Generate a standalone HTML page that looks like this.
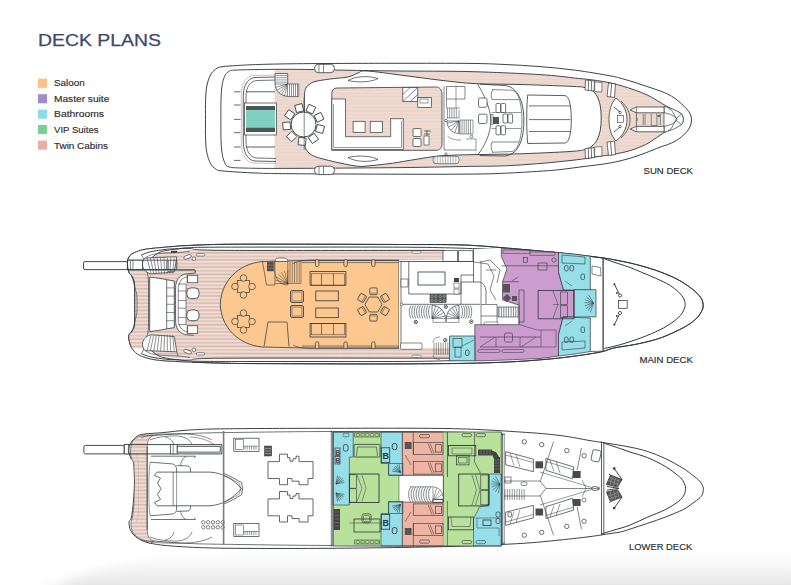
<!DOCTYPE html>
<html><head><meta charset="utf-8">
<style>
html,body{margin:0;padding:0;background:#fff;width:791px;height:585px;overflow:hidden;}
svg{position:absolute;left:0;top:0;display:block;}
text{font-family:"Liberation Sans",sans-serif;}
</style></head><body>
<svg width="791" height="585" viewBox="0 0 791 585">
<defs>
<pattern id="teak" width="8" height="3.5" patternUnits="userSpaceOnUse">
<rect width="8" height="3.5" fill="#e6d6d2"/><rect y="0" width="8" height="1.5" fill="#f8dac8"/>
</pattern>
<pattern id="teak2" width="8" height="7.2" patternUnits="userSpaceOnUse">
<rect width="8" height="7.2" fill="#f3e2da"/><rect y="0" width="8" height="1.6" fill="#d6b9b0"/><rect y="2.2" width="8" height="1.2" fill="#f7dcc8"/><rect y="3.6" width="8" height="1.6" fill="#dcc2ba"/><rect y="5.8" width="8" height="1.0" fill="#e8d4d0"/>
</pattern>
<linearGradient id="shade" gradientUnits="userSpaceOnUse" x1="0" y1="553" x2="0" y2="586">
<stop offset="0" stop-color="#ffffff"/><stop offset="0.45" stop-color="#f6f6f6"/><stop offset="1" stop-color="#e5e5e5"/>
</linearGradient>
<filter id="blurS" x="-0.1" y="-1" width="1.2" height="3"><feGaussianBlur stdDeviation="12 3"/></filter>
<radialGradient id="shadeL" cx="0" cy="1" r="1">
<stop offset="0" stop-color="#fff" stop-opacity="1"/><stop offset="1" stop-color="#fff" stop-opacity="0"/>
</radialGradient>
</defs>
<path d="M40,600 C65,576 110,560 200,552 L820,552 L820,600 Z" fill="url(#shade)" filter="url(#blurS)"/>
<text x="38" y="46.3" font-size="15.9" fill="#3e4a69" stroke="#3e4a69" stroke-width="0.25" textLength="123" lengthAdjust="spacingAndGlyphs">DECK PLANS</text>
<g font-size="8.4" fill="#2e2e2e" stroke="#2e2e2e" stroke-width="0.15">
<rect x="38" y="78.6" width="9" height="9.2" fill="#fdc08a" stroke="none"/><text x="54" y="85.8" textLength="30.6" lengthAdjust="spacingAndGlyphs">Saloon</text>
<rect x="38" y="94.2" width="9" height="9.1" fill="#9f8cc8" stroke="none"/><text x="54" y="101.5" textLength="55.3" lengthAdjust="spacingAndGlyphs">Master suite</text>
<rect x="38" y="109.6" width="9" height="9.1" fill="#8edcea" stroke="none"/><text x="54" y="117.0" textLength="50" lengthAdjust="spacingAndGlyphs">Bathrooms</text>
<rect x="38" y="125.0" width="9" height="9.1" fill="#7ccf94" stroke="none"/><text x="54" y="132.8" textLength="44.5" lengthAdjust="spacingAndGlyphs">VIP Suites</text>
<rect x="38" y="140.6" width="9" height="9.1" fill="#eab0a2" stroke="none"/><text x="54" y="148.5" textLength="53.9" lengthAdjust="spacingAndGlyphs">Twin Cabins</text>
</g>
<g font-size="8.4" fill="#2e2e2e" stroke="#2e2e2e" stroke-width="0.15">
<text x="643.6" y="174.4" textLength="49.3" lengthAdjust="spacingAndGlyphs">SUN DECK</text>
<text x="639.4" y="362.5" textLength="53.5" lengthAdjust="spacingAndGlyphs">MAIN DECK</text>
<text x="629" y="549.8" textLength="63.2" lengthAdjust="spacingAndGlyphs">LOWER DECK</text>
</g>
<path d="M205.50,119.50 C205.50,113.00 205.38,105.58 205.60,100.00 C205.82,94.42 205.98,90.17 206.80,86.00 C207.62,81.83 209.05,77.78 210.50,75.00 C211.95,72.22 213.58,70.68 215.50,69.30 C217.42,67.92 218.30,67.33 222.00,66.70 C225.70,66.07 232.13,65.85 237.70,65.50 C243.27,65.15 246.68,64.88 255.40,64.60 C264.12,64.32 274.23,64.00 290.00,63.80 C305.77,63.60 331.67,63.48 350.00,63.40 C368.33,63.32 380.00,63.30 400.00,63.30 C420.00,63.30 452.50,63.20 470.00,63.40 C487.50,63.60 493.33,63.97 505.00,64.50 C516.67,65.03 528.27,65.65 540.00,66.60 C551.73,67.55 563.73,68.67 575.40,70.20 C587.07,71.73 602.13,74.37 610.00,75.80 C617.87,77.23 618.38,77.67 622.60,78.80 C626.82,79.93 631.08,81.27 635.30,82.60 C639.52,83.93 643.78,85.42 647.90,86.80 C652.02,88.18 656.70,89.68 660.00,90.90 C663.30,92.12 665.13,92.80 667.70,94.10 C670.27,95.40 673.10,97.08 675.40,98.70 C677.70,100.32 679.62,102.08 681.50,103.80 C683.38,105.52 685.23,107.28 686.70,109.00 C688.17,110.72 689.50,112.27 690.30,114.10 C691.10,115.93 691.50,117.98 691.50,120.00 C691.50,122.02 691.10,124.23 690.30,126.20 C689.50,128.17 688.17,130.02 686.70,131.80 C685.23,133.58 683.38,135.37 681.50,136.90 C679.62,138.43 677.70,139.72 675.40,141.00 C673.10,142.28 670.27,143.57 667.70,144.60 C665.13,145.63 663.70,145.82 660.00,147.20 C656.30,148.58 650.45,151.07 645.50,152.90 C640.55,154.73 635.35,156.68 630.30,158.20 C625.25,159.72 620.25,160.95 615.20,162.00 C610.15,163.05 605.87,163.67 600.00,164.50 C594.13,165.33 586.67,166.15 580.00,167.00 C573.33,167.85 566.67,168.90 560.00,169.60 C553.33,170.30 549.10,170.60 540.00,171.20 C530.90,171.80 517.07,172.72 505.40,173.20 C493.73,173.68 487.57,173.93 470.00,174.10 C452.43,174.27 430.00,174.27 400.00,174.20 C370.00,174.13 314.10,173.90 290.00,173.70 C265.90,173.50 266.73,173.47 255.40,173.00 C244.07,172.53 228.65,171.60 222.00,170.90 C215.35,170.20 217.42,170.03 215.50,168.80 C213.58,167.57 211.95,166.22 210.50,163.50 C209.05,160.78 207.62,156.58 206.80,152.50 C205.98,148.42 205.82,144.50 205.60,139.00 C205.38,133.50 205.50,126.00 205.50,119.50 Z" fill="#fff" stroke="#30373a" stroke-width="0.95" />
<path d="M220.90,119.50 C220.90,113.00 220.82,105.58 221.00,100.00 C221.18,94.42 221.42,89.92 222.00,86.00 C222.58,82.08 223.37,78.90 224.50,76.50 C225.63,74.10 226.60,72.68 228.80,71.60 C231.00,70.52 227.50,70.38 237.70,70.00 C247.90,69.62 271.28,69.25 290.00,69.30 C308.72,69.35 331.67,70.02 350.00,70.30 C368.33,70.58 380.00,70.78 400.00,71.00 C420.00,71.22 446.67,71.00 470.00,71.60 C493.33,72.20 522.43,73.52 540.00,74.60 C557.57,75.68 566.55,77.20 575.40,78.10 C584.25,79.00 587.33,79.22 593.10,80.00 C598.87,80.78 605.08,81.78 610.00,82.80 C614.92,83.82 618.38,84.87 622.60,86.10 C626.82,87.33 631.08,88.67 635.30,90.20 C639.52,91.73 643.78,93.28 647.90,95.30 C652.02,97.32 657.13,100.62 660.00,102.30 C662.87,103.98 663.13,104.28 665.10,105.40 C667.07,106.52 669.73,107.98 671.80,109.00 C673.87,110.02 675.88,110.67 677.50,111.50 C679.12,112.33 680.53,112.67 681.50,114.00 C682.47,115.33 683.30,117.82 683.30,119.50 C683.30,121.18 682.57,122.90 681.50,124.10 C680.43,125.30 678.77,125.85 676.90,126.70 C675.03,127.55 672.35,128.27 670.30,129.20 C668.25,130.13 666.32,131.27 664.60,132.30 C662.88,133.33 661.92,134.12 660.00,135.40 C658.08,136.68 655.52,138.47 653.10,140.00 C650.68,141.53 649.30,142.83 645.50,144.60 C641.70,146.37 635.35,149.03 630.30,150.60 C625.25,152.17 620.25,153.05 615.20,154.00 C610.15,154.95 606.70,155.30 600.00,156.30 C593.30,157.30 585.00,158.80 575.00,160.00 C565.00,161.20 551.60,162.53 540.00,163.50 C528.40,164.47 517.07,165.32 505.40,165.80 C493.73,166.28 487.57,166.10 470.00,166.40 C452.43,166.70 430.00,167.27 400.00,167.60 C370.00,167.93 315.58,168.32 290.00,168.40 C264.42,168.48 256.70,168.35 246.50,168.10 C236.30,167.85 232.47,167.92 228.80,166.90 C225.13,165.88 225.63,164.32 224.50,162.00 C223.37,159.68 222.58,156.83 222.00,153.00 C221.42,149.17 221.18,144.58 221.00,139.00 C220.82,133.42 220.90,126.00 220.90,119.50 Z" fill="url(#teak)" stroke="none" stroke-width="0.9" />
<clipPath id="sinner"><path d="M220.90,119.50 C220.90,113.00 220.82,105.58 221.00,100.00 C221.18,94.42 221.42,89.92 222.00,86.00 C222.58,82.08 223.37,78.90 224.50,76.50 C225.63,74.10 226.60,72.68 228.80,71.60 C231.00,70.52 227.50,70.38 237.70,70.00 C247.90,69.62 271.28,69.25 290.00,69.30 C308.72,69.35 331.67,70.02 350.00,70.30 C368.33,70.58 380.00,70.78 400.00,71.00 C420.00,71.22 446.67,71.00 470.00,71.60 C493.33,72.20 522.43,73.52 540.00,74.60 C557.57,75.68 566.55,77.20 575.40,78.10 C584.25,79.00 587.33,79.22 593.10,80.00 C598.87,80.78 605.08,81.78 610.00,82.80 C614.92,83.82 618.38,84.87 622.60,86.10 C626.82,87.33 631.08,88.67 635.30,90.20 C639.52,91.73 643.78,93.28 647.90,95.30 C652.02,97.32 657.13,100.62 660.00,102.30 C662.87,103.98 663.13,104.28 665.10,105.40 C667.07,106.52 669.73,107.98 671.80,109.00 C673.87,110.02 675.88,110.67 677.50,111.50 C679.12,112.33 680.53,112.67 681.50,114.00 C682.47,115.33 683.30,117.82 683.30,119.50 C683.30,121.18 682.57,122.90 681.50,124.10 C680.43,125.30 678.77,125.85 676.90,126.70 C675.03,127.55 672.35,128.27 670.30,129.20 C668.25,130.13 666.32,131.27 664.60,132.30 C662.88,133.33 661.92,134.12 660.00,135.40 C658.08,136.68 655.52,138.47 653.10,140.00 C650.68,141.53 649.30,142.83 645.50,144.60 C641.70,146.37 635.35,149.03 630.30,150.60 C625.25,152.17 620.25,153.05 615.20,154.00 C610.15,154.95 606.70,155.30 600.00,156.30 C593.30,157.30 585.00,158.80 575.00,160.00 C565.00,161.20 551.60,162.53 540.00,163.50 C528.40,164.47 517.07,165.32 505.40,165.80 C493.73,166.28 487.57,166.10 470.00,166.40 C452.43,166.70 430.00,167.27 400.00,167.60 C370.00,167.93 315.58,168.32 290.00,168.40 C264.42,168.48 256.70,168.35 246.50,168.10 C236.30,167.85 232.47,167.92 228.80,166.90 C225.13,165.88 225.63,164.32 224.50,162.00 C223.37,159.68 222.58,156.83 222.00,153.00 C221.42,149.17 221.18,144.58 221.00,139.00 C220.82,133.42 220.90,126.00 220.90,119.50 Z"/></clipPath>
<rect x="215" y="65" width="59.5" height="110" fill="#fff" clip-path="url(#sinner)"/>
<path d="M220.90,119.50 C220.90,113.00 220.82,105.58 221.00,100.00 C221.18,94.42 221.42,89.92 222.00,86.00 C222.58,82.08 223.37,78.90 224.50,76.50 C225.63,74.10 226.60,72.68 228.80,71.60 C231.00,70.52 227.50,70.38 237.70,70.00 C247.90,69.62 271.28,69.25 290.00,69.30 C308.72,69.35 331.67,70.02 350.00,70.30 C368.33,70.58 380.00,70.78 400.00,71.00 C420.00,71.22 446.67,71.00 470.00,71.60 C493.33,72.20 522.43,73.52 540.00,74.60 C557.57,75.68 566.55,77.20 575.40,78.10 C584.25,79.00 587.33,79.22 593.10,80.00 C598.87,80.78 605.08,81.78 610.00,82.80 C614.92,83.82 618.38,84.87 622.60,86.10 C626.82,87.33 631.08,88.67 635.30,90.20 C639.52,91.73 643.78,93.28 647.90,95.30 C652.02,97.32 657.13,100.62 660.00,102.30 C662.87,103.98 663.13,104.28 665.10,105.40 C667.07,106.52 669.73,107.98 671.80,109.00 C673.87,110.02 675.88,110.67 677.50,111.50 C679.12,112.33 680.53,112.67 681.50,114.00 C682.47,115.33 683.30,117.82 683.30,119.50 C683.30,121.18 682.57,122.90 681.50,124.10 C680.43,125.30 678.77,125.85 676.90,126.70 C675.03,127.55 672.35,128.27 670.30,129.20 C668.25,130.13 666.32,131.27 664.60,132.30 C662.88,133.33 661.92,134.12 660.00,135.40 C658.08,136.68 655.52,138.47 653.10,140.00 C650.68,141.53 649.30,142.83 645.50,144.60 C641.70,146.37 635.35,149.03 630.30,150.60 C625.25,152.17 620.25,153.05 615.20,154.00 C610.15,154.95 606.70,155.30 600.00,156.30 C593.30,157.30 585.00,158.80 575.00,160.00 C565.00,161.20 551.60,162.53 540.00,163.50 C528.40,164.47 517.07,165.32 505.40,165.80 C493.73,166.28 487.57,166.10 470.00,166.40 C452.43,166.70 430.00,167.27 400.00,167.60 C370.00,167.93 315.58,168.32 290.00,168.40 C264.42,168.48 256.70,168.35 246.50,168.10 C236.30,167.85 232.47,167.92 228.80,166.90 C225.13,165.88 225.63,164.32 224.50,162.00 C223.37,159.68 222.58,156.83 222.00,153.00 C221.42,149.17 221.18,144.58 221.00,139.00 C220.82,133.42 220.90,126.00 220.90,119.50 Z" fill="none" stroke="#30373a" stroke-width="0.9" />
<path d="M276,75 L254,75.5 C246,76 241.5,83 241.3,95 L241.3,143 C241.5,155 246,162.5 254,163 L276,163.5" fill="none" stroke="#d8a898" stroke-width="0.8" />
<path d="M276,77 L255,77.5 C248,78 243.5,85 243.3,96 L243.3,142 C243.5,153 248,160.5 255,161 L276,161.5" fill="none" stroke="#30373a" stroke-width="0.8" />
<path d="M276,80 L257,80.5 C250,81 246,87 246,97 L246,103" fill="none" stroke="#30373a" stroke-width="0.7" />
<path d="M276,158.5 L257,158 C250,157.5 246,151 246,141 L246,135" fill="none" stroke="#30373a" stroke-width="0.7" />
<line x1="234.00" y1="91.80" x2="240.50" y2="91.80" stroke="#556" stroke-width="0.9"/>
<line x1="234.00" y1="105.00" x2="240.50" y2="105.00" stroke="#556" stroke-width="0.9"/>
<line x1="234.00" y1="119.40" x2="240.50" y2="119.40" stroke="#556" stroke-width="0.9"/>
<line x1="234.00" y1="132.70" x2="240.50" y2="132.70" stroke="#556" stroke-width="0.9"/>
<line x1="234.00" y1="147.00" x2="240.50" y2="147.00" stroke="#556" stroke-width="0.9"/>
<line x1="234.00" y1="160.40" x2="240.50" y2="160.40" stroke="#556" stroke-width="0.9"/>
<line x1="246.00" y1="91.80" x2="275.00" y2="91.80" stroke="#3c5556" stroke-width="0.9"/>
<line x1="246.00" y1="147.00" x2="275.00" y2="147.00" stroke="#3c5556" stroke-width="0.9"/>
<rect x="244.50" y="103.00" width="32.00" height="32.00" fill="#fff" stroke="#30373a" stroke-width="0.7" />
<rect x="246.00" y="106.00" width="29.00" height="4.20" fill="#4b5656" stroke="none" stroke-width="0.8" />
<rect x="246.00" y="110.20" width="29.00" height="17.40" fill="#7fcfc3" stroke="none" stroke-width="0.8" />
<rect x="246.00" y="127.60" width="29.00" height="4.40" fill="#4b5656" stroke="none" stroke-width="0.8" />
<path d="M275.1,73.5 L287.7,73.5 L287.7,96.3 C280.5,96 275.4,90.5 275.1,84 Z" fill="#fff" stroke="#30373a" stroke-width="0.7" />
<line x1="275.60" y1="75.50" x2="287.30" y2="75.50" stroke="#30373a" stroke-width="0.5"/>
<line x1="275.60" y1="77.70" x2="287.30" y2="77.70" stroke="#30373a" stroke-width="0.5"/>
<line x1="275.60" y1="79.90" x2="287.30" y2="79.90" stroke="#30373a" stroke-width="0.5"/>
<line x1="275.60" y1="82.10" x2="287.30" y2="82.10" stroke="#30373a" stroke-width="0.5"/>
<line x1="287.70" y1="84.00" x2="275.10" y2="84.00" stroke="#30373a" stroke-width="0.55"/>
<line x1="287.70" y1="84.00" x2="275.53" y2="87.26" stroke="#30373a" stroke-width="0.55"/>
<line x1="287.70" y1="84.00" x2="276.79" y2="90.30" stroke="#30373a" stroke-width="0.55"/>
<line x1="287.70" y1="84.00" x2="278.79" y2="92.91" stroke="#30373a" stroke-width="0.55"/>
<line x1="287.70" y1="84.00" x2="281.40" y2="94.91" stroke="#30373a" stroke-width="0.55"/>
<line x1="287.70" y1="84.00" x2="284.44" y2="96.17" stroke="#30373a" stroke-width="0.55"/>
<line x1="287.70" y1="84.00" x2="287.70" y2="96.60" stroke="#30373a" stroke-width="0.55"/>
<path d="M287.7,84 L298.7,84 L298.7,96.5 L287.7,96.5" fill="#fff" stroke="#30373a" stroke-width="0.6" />
<line x1="289.50" y1="84.00" x2="289.50" y2="96.50" stroke="#30373a" stroke-width="0.55"/>
<line x1="291.50" y1="84.00" x2="291.50" y2="96.50" stroke="#30373a" stroke-width="0.55"/>
<line x1="293.50" y1="84.00" x2="293.50" y2="96.50" stroke="#30373a" stroke-width="0.55"/>
<line x1="295.50" y1="84.00" x2="295.50" y2="96.50" stroke="#30373a" stroke-width="0.55"/>
<line x1="297.50" y1="84.00" x2="297.50" y2="96.50" stroke="#30373a" stroke-width="0.55"/>
<path d="M304.40,120.00 C304.40,112.67 304.13,101.33 304.40,96.00 C304.67,90.67 305.07,90.00 306.00,88.00 C306.93,86.00 308.50,85.08 310.00,84.00 C311.50,82.92 311.67,82.33 315.00,81.50 C318.33,80.67 324.50,79.75 330.00,79.00 C335.50,78.25 343.33,78.00 348.00,77.00 C352.67,76.00 354.83,74.00 358.00,73.00 C361.17,72.00 359.33,70.58 367.00,71.00 C374.67,71.42 391.67,73.95 404.00,75.50 C416.33,77.05 429.00,78.93 441.00,80.30 C453.00,81.67 462.83,83.00 476.00,83.70 C489.17,84.40 504.33,84.07 520.00,84.50 C535.67,84.93 559.17,85.80 570.00,86.30 C580.83,86.80 581.33,86.80 585.00,87.50 C588.67,88.20 590.00,89.08 592.00,90.50 C594.00,91.92 595.62,93.42 597.00,96.00 C598.38,98.58 599.60,102.33 600.30,106.00 C601.00,109.67 601.20,114.00 601.20,118.00 C601.20,122.00 601.00,126.33 600.30,130.00 C599.60,133.67 598.38,137.33 597.00,140.00 C595.62,142.67 594.00,144.42 592.00,146.00 C590.00,147.58 588.67,148.58 585.00,149.50 C581.33,150.42 580.83,150.78 570.00,151.50 C559.17,152.22 535.67,153.28 520.00,153.80 C504.33,154.32 489.17,154.27 476.00,154.60 C462.83,154.93 451.17,154.98 441.00,155.80 C430.83,156.62 423.08,158.27 415.00,159.50 C406.92,160.73 399.67,162.20 392.50,163.20 C385.33,164.20 377.70,164.98 372.00,165.50 C366.30,166.02 363.63,166.72 358.30,166.30 C352.97,165.88 345.55,164.13 340.00,163.00 C334.45,161.87 329.17,160.58 325.00,159.50 C320.83,158.42 317.67,157.58 315.00,156.50 C312.33,155.42 310.58,154.42 309.00,153.00 C307.42,151.58 306.27,150.17 305.50,148.00 C304.73,145.83 304.58,144.67 304.40,140.00 C304.22,135.33 304.40,127.33 304.40,120.00 Z" fill="#fff" stroke="#30373a" stroke-width="0.9" />
<path d="M348,80.5 C356,76 368,75.5 378,78.5 C372,82 358,83 348,80.5 Z" fill="#fff" stroke="#30373a" stroke-width="0.7" />
<path d="M348,157.5 C356,162 368,162.5 378,159.5 C372,156 358,155 348,157.5 Z" fill="#fff" stroke="#30373a" stroke-width="0.7" />
<path d="M331.8,150.3 L331.8,93 C331.8,90 334,88 337,88 L436,87 C439.5,87 442,90 442,94 L442,144 C442,148 439.5,150.3 436,150.3 Z" fill="url(#teak)" stroke="#30373a" stroke-width="0.8" />
<path d="M331.8,99 L345.5,99 L345.5,136.7 L390.7,136.7 L390.7,118.7 L403.3,118.7 L403.3,149.5 L331.8,149.5 Z" fill="#fff" stroke="#30373a" stroke-width="0.7" />
<path d="M333.5,104 L333.5,147.5 L401.5,147.5 L401.5,121" fill="none" stroke="#30373a" stroke-width="0.5" />
<rect x="353.10" y="121.30" width="12.00" height="11.10" fill="#fff" stroke="#30373a" stroke-width="0.7" />
<rect x="370.20" y="121.30" width="12.30" height="11.10" fill="#fff" stroke="#30373a" stroke-width="0.7" />
<rect x="402.80" y="87.50" width="15.00" height="14.00" fill="#fff" stroke="#30373a" stroke-width="0.7" />
<line x1="402.80" y1="101.50" x2="417.80" y2="87.50" stroke="#30373a" stroke-width="0.6"/>
<line x1="402.80" y1="94.50" x2="410.30" y2="87.50" stroke="#30373a" stroke-width="0.6"/>
<line x1="410.30" y1="101.50" x2="417.80" y2="94.50" stroke="#30373a" stroke-width="0.6"/>
<rect x="417.80" y="97.50" width="13.50" height="10.00" fill="#fff" stroke="#30373a" stroke-width="0.7" />
<rect x="420.00" y="99.00" width="8.00" height="4.00" fill="#fff" stroke="#30373a" stroke-width="0.5" />
<rect x="413.00" y="128.50" width="8.00" height="8.00" fill="#fff" stroke="#30373a" stroke-width="0.7" rx="1" />
<rect x="413.00" y="138.50" width="8.00" height="8.00" fill="#fff" stroke="#30373a" stroke-width="0.7" rx="1" />
<line x1="424.00" y1="131.00" x2="431.00" y2="131.00" stroke="#30373a" stroke-width="0.6"/>
<line x1="424.00" y1="134.00" x2="430.00" y2="134.00" stroke="#30373a" stroke-width="0.6"/>
<line x1="427.00" y1="130.00" x2="427.00" y2="140.00" stroke="#30373a" stroke-width="0.6"/>
<rect x="424.00" y="136.00" width="5.00" height="9.00" fill="#fff" stroke="#30373a" stroke-width="0.6" />
<path d="M477.7,84.2 C484,95 490.8,108 490.8,121 C490.8,134 484,147 477.7,155" fill="none" stroke="#30373a" stroke-width="0.7" />
<path d="M480,84.2 L505,85.5 C513,86.5 518,92 521.5,102 C523.5,109 523.8,115 523.8,121 C523.8,127 523.5,133 521.5,140 C518,150 513,155 505,156 L480,155.5" fill="none" stroke="#30373a" stroke-width="0.8" />
<path d="M492,89.6 L512,90.2 C516,91 519,96 520.5,104 C521.7,110 522,115 522,120 C522,126 521.7,131 520.5,137 C519,145 516,150.5 512,151.5 L492,152.3" fill="none" stroke="#30373a" stroke-width="0.6" />
<path d="M493,89.6 C491,92 490.5,96 492,99.6 L519,99.6 M493,152.3 C491,150 490.5,146 492,142 L519,142" fill="none" stroke="#30373a" stroke-width="0.6" />
<path d="M491.5,112.5 L521,112.5 M491.5,128.5 L521,128.5" fill="none" stroke="#30373a" stroke-width="0.5" />
<rect x="496.00" y="103.50" width="4.60" height="9.00" fill="#fff" stroke="#30373a" stroke-width="0.7" rx="1" />
<rect x="501.00" y="103.50" width="4.60" height="9.00" fill="#fff" stroke="#30373a" stroke-width="0.7" rx="1" />
<rect x="503.00" y="114.00" width="4.60" height="9.00" fill="#fff" stroke="#30373a" stroke-width="0.7" rx="1" />
<rect x="508.00" y="114.00" width="4.60" height="9.00" fill="#fff" stroke="#30373a" stroke-width="0.7" rx="1" />
<rect x="496.00" y="125.80" width="4.60" height="9.00" fill="#fff" stroke="#30373a" stroke-width="0.7" rx="1" />
<rect x="501.00" y="125.80" width="4.60" height="9.00" fill="#fff" stroke="#30373a" stroke-width="0.7" rx="1" />
<rect x="478.50" y="98.00" width="8.50" height="9.30" fill="#fff" stroke="#30373a" stroke-width="0.7" rx="1.5" />
<rect x="478.50" y="114.20" width="8.50" height="9.30" fill="#fff" stroke="#30373a" stroke-width="0.7" rx="1.5" />
<path d="M493,117 L499,117 L499,124 L493,124 Z" fill="#555" stroke="none" stroke-width="0.9" />
<rect x="491.00" y="114.50" width="2.00" height="10.00" fill="none" stroke="#30373a" stroke-width="0.5" />
<path d="M444,86 L444,150 L476,150" fill="none" stroke="#30373a" stroke-width="0.6" />
<path d="M446.5,86.5 L465,86.5 L465,99 L446.5,99 Z" fill="none" stroke="#30373a" stroke-width="0.6" />
<line x1="456.00" y1="86.50" x2="456.00" y2="108.00" stroke="#30373a" stroke-width="0.5"/>
<path d="M446.5,99 L446.5,108 L460,108" fill="none" stroke="#30373a" stroke-width="0.5" />
<line x1="447.50" y1="108.00" x2="447.50" y2="118.00" stroke="#30373a" stroke-width="0.5"/>
<line x1="449.70" y1="108.00" x2="449.70" y2="118.00" stroke="#30373a" stroke-width="0.5"/>
<line x1="451.90" y1="108.00" x2="451.90" y2="118.00" stroke="#30373a" stroke-width="0.5"/>
<line x1="454.10" y1="108.00" x2="454.10" y2="118.00" stroke="#30373a" stroke-width="0.5"/>
<line x1="456.30" y1="108.00" x2="456.30" y2="118.00" stroke="#30373a" stroke-width="0.5"/>
<path d="M446.5,118 L459,118 L459,110" fill="none" stroke="#30373a" stroke-width="0.5" />
<path d="M447,121 C447,128 452,133.5 459,133.5 L459,121 Z" fill="none" stroke="#30373a" stroke-width="0.6" />
<line x1="459.00" y1="121.00" x2="459.00" y2="133.00" stroke="#30373a" stroke-width="0.5"/>
<line x1="459.00" y1="121.00" x2="454.90" y2="132.28" stroke="#30373a" stroke-width="0.5"/>
<line x1="459.00" y1="121.00" x2="451.29" y2="130.19" stroke="#30373a" stroke-width="0.5"/>
<line x1="459.00" y1="121.00" x2="448.61" y2="127.00" stroke="#30373a" stroke-width="0.5"/>
<line x1="459.00" y1="121.00" x2="447.18" y2="123.08" stroke="#30373a" stroke-width="0.5"/>
<path d="M447.5,136 C450,139 455,140 459,140 L461,140" fill="none" stroke="#30373a" stroke-width="0.5" />
<line x1="460.00" y1="120.00" x2="460.00" y2="134.00" stroke="#30373a" stroke-width="0.5"/>
<line x1="462.10" y1="120.00" x2="462.10" y2="134.00" stroke="#30373a" stroke-width="0.5"/>
<line x1="464.20" y1="120.00" x2="464.20" y2="134.00" stroke="#30373a" stroke-width="0.5"/>
<line x1="466.30" y1="120.00" x2="466.30" y2="134.00" stroke="#30373a" stroke-width="0.5"/>
<line x1="468.40" y1="120.00" x2="468.40" y2="134.00" stroke="#30373a" stroke-width="0.5"/>
<line x1="470.50" y1="120.00" x2="470.50" y2="134.00" stroke="#30373a" stroke-width="0.5"/>
<path d="M459,120 L473,120 L473,134 L459,134" fill="none" stroke="#30373a" stroke-width="0.5" />
<circle cx="446.00" cy="120.50" r="1.20" fill="#fff" stroke="#30373a" stroke-width="0.6"/>
<circle cx="471.50" cy="136.50" r="1.40" fill="#fff" stroke="#30373a" stroke-width="0.6"/>
<circle cx="446.00" cy="154.00" r="1.20" fill="#fff" stroke="#30373a" stroke-width="0.6"/>
<path d="M466,139 L476,139 L476,151" fill="none" stroke="#30373a" stroke-width="0.5" />
<path d="M527.7,95 L565,95.6 C569,96 571.3,105 571.3,119.4 C571.3,134 569,142.5 565,143 L527.7,143.5 C526.5,130 526.3,110 527.7,95 Z" fill="#fff" stroke="#30373a" stroke-width="0.8" />
<line x1="529.00" y1="105.90" x2="570.50" y2="105.90" stroke="#30373a" stroke-width="0.7"/>
<line x1="529.00" y1="119.60" x2="570.50" y2="119.60" stroke="#30373a" stroke-width="0.7"/>
<line x1="529.00" y1="131.50" x2="570.50" y2="131.50" stroke="#30373a" stroke-width="0.7"/>
<path d="M585.50,80.00 L594.50,81.00 L594.00,91.00 L585.00,90.00 Z" fill="#fff" stroke="#30373a" stroke-width="0.7" />
<line x1="588.60" y1="80.30" x2="588.30" y2="90.30" stroke="#30373a" stroke-width="0.7"/>
<line x1="591.60" y1="80.60" x2="591.30" y2="90.60" stroke="#30373a" stroke-width="0.7"/>
<path d="M594.70,82.00 L601.90,82.50 L601.90,92.00 L594.70,91.50 Z" fill="#fff" stroke="#30373a" stroke-width="0.6" />
<path d="M608.50,83.00 L615.50,84.00 L614.50,97.50 L607.00,96.50 Z" fill="#fff" stroke="#30373a" stroke-width="0.7" />
<line x1="611.70" y1="83.50" x2="610.50" y2="97.00" stroke="#30373a" stroke-width="0.7"/>
<path d="M585.50,158.60 L594.50,157.60 L594.00,147.60 L585.00,148.60 Z" fill="#fff" stroke="#30373a" stroke-width="0.7" />
<line x1="588.60" y1="158.30" x2="588.30" y2="148.30" stroke="#30373a" stroke-width="0.7"/>
<line x1="591.60" y1="158.00" x2="591.30" y2="148.00" stroke="#30373a" stroke-width="0.7"/>
<path d="M594.70,156.60 L601.90,156.10 L601.90,146.60 L594.70,147.10 Z" fill="#fff" stroke="#30373a" stroke-width="0.6" />
<path d="M608.50,155.60 L615.50,154.60 L614.50,141.10 L607.00,142.10 Z" fill="#fff" stroke="#30373a" stroke-width="0.7" />
<line x1="611.70" y1="155.10" x2="610.50" y2="141.60" stroke="#30373a" stroke-width="0.7"/>
<path d="M616,98 C624,104 627,112 627,119.5 C627,127 624,135 616,141 C611,136 609,128 609,119.5 C609,111 611,103 616,98 Z" fill="#fff" stroke="#30373a" stroke-width="0.8" />
<path d="M621,101 C628,108 630,113 630,119.5 C630,126 628,131 621,138" fill="none" stroke="#30373a" stroke-width="0.7" />
<rect x="617.50" y="115.50" width="6.00" height="7.00" fill="#fff" stroke="#30373a" stroke-width="0.6" />
<path d="M614,107 L620,112" fill="none" stroke="#30373a" stroke-width="0.8" />
<circle cx="620.00" cy="112.50" r="1.30" fill="none" stroke="#30373a" stroke-width="0.7"/>
<path d="M614,132 L620,127" fill="none" stroke="#30373a" stroke-width="0.8" />
<circle cx="620.00" cy="126.50" r="1.30" fill="none" stroke="#30373a" stroke-width="0.7"/>
<path d="M664,106.3 C671,108 677,110.5 681.5,114 C683,116 683.3,118 683.3,119.5 C683.3,121 683,123 681.5,124.6 C677,128 671,130.6 664,132.3 Z" fill="#fff" stroke="#30373a" stroke-width="0.7" />
<path d="M630.1,110 L636.4,107 L664,107 L664,112.8 L636.4,112.8 Z" fill="#fff" stroke="#30373a" stroke-width="0.75" />
<path d="M630.1,129 L636.4,126.4 L664,126.4 L664,131.8 L636.4,131.8 Z" fill="#fff" stroke="#30373a" stroke-width="0.75" />
<line x1="636.40" y1="107.00" x2="636.40" y2="112.80" stroke="#30373a" stroke-width="0.6"/>
<line x1="636.40" y1="126.40" x2="636.40" y2="131.80" stroke="#30373a" stroke-width="0.6"/>
<path d="M636.4,112.8 L636.4,126.4 M664,112.8 C671,114 676,116.5 677,119.5 C676,122.5 671,125 664,126.4" fill="none" stroke="#30373a" stroke-width="0.65" />
<path d="M636.8,118 L637.6,119.5 L636.8,121 M643.2,114 L643.2,125 M645,114 L645,125 M651.2,113.5 L651.2,125.5 L656.9,125.5 L656.9,113.5 M660.3,114 L660.3,125" fill="none" stroke="#30373a" stroke-width="0.55" />
<rect x="657.50" y="115.00" width="2.50" height="2.00" fill="#4a6a8a" stroke="none" stroke-width="0.8" />
<path d="M671.6,110.3 L676.4,118.5 L671.6,128.2 M676.4,118.5 L681.5,114 M676.4,120.5 L681.5,124.6" fill="none" stroke="#30373a" stroke-width="0.65" />
<path d="M668,107.8 L671.6,110.3 M668,130.8 L671.6,128.2" fill="none" stroke="#2f5f50" stroke-width="0.8" />
<rect x="295.50" y="104.38" width="7.4" height="7.4" fill="#fff" stroke="#30373a" stroke-width="0.8" transform="rotate(-15.0 299.20 108.08)"/>
<rect x="307.08" y="105.39" width="7.4" height="7.4" fill="#fff" stroke="#30373a" stroke-width="0.8" transform="rotate(25.0 310.78 109.09)"/>
<rect x="315.31" y="113.62" width="7.4" height="7.4" fill="#fff" stroke="#30373a" stroke-width="0.8" transform="rotate(65.0 319.01 117.32)"/>
<rect x="316.32" y="125.20" width="7.4" height="7.4" fill="#fff" stroke="#30373a" stroke-width="0.8" transform="rotate(105.0 320.02 128.90)"/>
<rect x="309.65" y="134.73" width="7.4" height="7.4" fill="#fff" stroke="#30373a" stroke-width="0.8" transform="rotate(145.0 313.35 138.43)"/>
<rect x="298.42" y="137.74" width="7.4" height="7.4" fill="#fff" stroke="#30373a" stroke-width="0.8" transform="rotate(185.0 302.12 141.44)"/>
<rect x="287.88" y="132.82" width="7.4" height="7.4" fill="#fff" stroke="#30373a" stroke-width="0.8" transform="rotate(225.0 291.58 136.52)"/>
<rect x="282.96" y="122.28" width="7.4" height="7.4" fill="#fff" stroke="#30373a" stroke-width="0.8" transform="rotate(265.0 286.66 125.98)"/>
<rect x="285.97" y="111.05" width="7.4" height="7.4" fill="#fff" stroke="#30373a" stroke-width="0.8" transform="rotate(305.0 289.67 114.75)"/>
<circle cx="303.60" cy="124.50" r="12.50" fill="#fff" stroke="#30373a" stroke-width="0.9"/>
<line x1="304.20" y1="98.00" x2="304.20" y2="150.00" stroke="#30373a" stroke-width="0.6"/>
<rect x="314.50" y="64.30" width="20.00" height="8.40" fill="#fff" stroke="#30373a" stroke-width="0.8" rx="4" />
<line x1="319.00" y1="64.30" x2="319.00" y2="72.70" stroke="#30373a" stroke-width="0.6"/>
<line x1="323.50" y1="64.30" x2="323.50" y2="72.70" stroke="#30373a" stroke-width="0.6"/>
<rect x="314.50" y="166.20" width="20.00" height="8.40" fill="#fff" stroke="#30373a" stroke-width="0.8" rx="4" />
<line x1="319.00" y1="166.20" x2="319.00" y2="174.60" stroke="#30373a" stroke-width="0.6"/>
<line x1="323.50" y1="166.20" x2="323.50" y2="174.60" stroke="#30373a" stroke-width="0.6"/>
<rect x="433.00" y="156.20" width="26.00" height="7.50" fill="#fff" stroke="#30373a" stroke-width="0.6" rx="3" />
<line x1="435.00" y1="156.50" x2="435.00" y2="163.40" stroke="#30373a" stroke-width="0.4"/>
<line x1="437.60" y1="156.50" x2="437.60" y2="163.40" stroke="#30373a" stroke-width="0.4"/>
<line x1="440.20" y1="156.50" x2="440.20" y2="163.40" stroke="#30373a" stroke-width="0.4"/>
<line x1="442.80" y1="156.50" x2="442.80" y2="163.40" stroke="#30373a" stroke-width="0.4"/>
<line x1="445.40" y1="156.50" x2="445.40" y2="163.40" stroke="#30373a" stroke-width="0.4"/>
<line x1="448.00" y1="156.50" x2="448.00" y2="163.40" stroke="#30373a" stroke-width="0.4"/>
<line x1="450.60" y1="156.50" x2="450.60" y2="163.40" stroke="#30373a" stroke-width="0.4"/>
<line x1="453.20" y1="156.50" x2="453.20" y2="163.40" stroke="#30373a" stroke-width="0.4"/>
<line x1="455.80" y1="156.50" x2="455.80" y2="163.40" stroke="#30373a" stroke-width="0.4"/>
<path d="M134.70,304.30 C134.70,297.58 134.85,289.23 134.50,284.70 C134.15,280.17 133.55,279.22 132.60,277.10 C131.65,274.98 129.65,274.52 128.80,272.00 C127.95,269.48 127.30,264.73 127.50,262.00 C127.70,259.27 128.52,257.30 130.00,255.60 C131.48,253.90 133.87,252.85 136.40,251.80 C138.93,250.75 140.78,250.03 145.20,249.30 C149.62,248.57 155.73,248.03 162.90,247.40 C170.07,246.77 177.85,246.02 188.20,245.50 C198.55,244.98 206.37,244.52 225.00,244.30 C243.63,244.08 270.83,244.17 300.00,244.20 C329.17,244.23 373.33,244.38 400.00,244.50 C426.67,244.62 443.33,244.40 460.00,244.90 C476.67,245.40 483.73,246.20 500.00,247.50 C516.27,248.80 540.93,251.02 557.60,252.70 C574.27,254.38 590.62,256.43 600.00,257.60 C609.38,258.77 609.27,258.88 613.90,259.70 C618.53,260.52 623.17,261.45 627.80,262.50 C632.43,263.55 636.33,264.45 641.70,266.00 C647.07,267.55 653.97,269.53 660.00,271.80 C666.03,274.07 672.52,276.72 677.90,279.60 C683.28,282.48 688.50,286.12 692.30,289.10 C696.10,292.08 698.90,294.90 700.70,297.50 C702.50,300.10 702.90,302.50 703.10,304.70 C703.30,306.90 703.10,308.32 701.90,310.70 C700.70,313.08 698.90,316.22 695.90,319.00 C692.90,321.78 688.88,324.60 683.90,327.40 C678.92,330.20 671.17,333.65 666.00,335.80 C660.83,337.95 658.10,338.85 652.90,340.30 C647.70,341.75 641.30,343.22 634.80,344.50 C628.30,345.78 620.20,346.63 613.90,348.00 C607.60,349.37 607.37,350.90 597.00,352.70 C586.63,354.50 569.37,357.13 551.70,358.80 C534.03,360.47 516.28,361.85 491.00,362.70 C465.72,363.55 438.50,363.75 400.00,363.90 C361.50,364.05 289.17,363.72 260.00,363.60 C230.83,363.48 236.97,363.47 225.00,363.20 C213.03,362.93 199.60,362.53 188.20,362.00 C176.80,361.47 164.60,361.07 156.60,360.00 C148.60,358.93 144.20,357.38 140.20,355.60 C136.20,353.82 134.40,351.62 132.60,349.30 C130.80,346.98 130.03,344.02 129.40,341.70 C128.77,339.38 128.37,337.18 128.80,335.40 C129.23,333.62 131.05,332.73 132.00,331.00 C132.95,329.27 134.05,329.45 134.50,325.00 C134.95,320.55 134.70,311.02 134.70,304.30 Z" fill="#fff" stroke="#30373a" stroke-width="0.95" />
<clipPath id="mhull"><path d="M134.70,304.30 C134.70,297.58 134.85,289.23 134.50,284.70 C134.15,280.17 133.55,279.22 132.60,277.10 C131.65,274.98 129.65,274.52 128.80,272.00 C127.95,269.48 127.30,264.73 127.50,262.00 C127.70,259.27 128.52,257.30 130.00,255.60 C131.48,253.90 133.87,252.85 136.40,251.80 C138.93,250.75 140.78,250.03 145.20,249.30 C149.62,248.57 155.73,248.03 162.90,247.40 C170.07,246.77 177.85,246.02 188.20,245.50 C198.55,244.98 206.37,244.52 225.00,244.30 C243.63,244.08 270.83,244.17 300.00,244.20 C329.17,244.23 373.33,244.38 400.00,244.50 C426.67,244.62 443.33,244.40 460.00,244.90 C476.67,245.40 483.73,246.20 500.00,247.50 C516.27,248.80 540.93,251.02 557.60,252.70 C574.27,254.38 590.62,256.43 600.00,257.60 C609.38,258.77 609.27,258.88 613.90,259.70 C618.53,260.52 623.17,261.45 627.80,262.50 C632.43,263.55 636.33,264.45 641.70,266.00 C647.07,267.55 653.97,269.53 660.00,271.80 C666.03,274.07 672.52,276.72 677.90,279.60 C683.28,282.48 688.50,286.12 692.30,289.10 C696.10,292.08 698.90,294.90 700.70,297.50 C702.50,300.10 702.90,302.50 703.10,304.70 C703.30,306.90 703.10,308.32 701.90,310.70 C700.70,313.08 698.90,316.22 695.90,319.00 C692.90,321.78 688.88,324.60 683.90,327.40 C678.92,330.20 671.17,333.65 666.00,335.80 C660.83,337.95 658.10,338.85 652.90,340.30 C647.70,341.75 641.30,343.22 634.80,344.50 C628.30,345.78 620.20,346.63 613.90,348.00 C607.60,349.37 607.37,350.90 597.00,352.70 C586.63,354.50 569.37,357.13 551.70,358.80 C534.03,360.47 516.28,361.85 491.00,362.70 C465.72,363.55 438.50,363.75 400.00,363.90 C361.50,364.05 289.17,363.72 260.00,363.60 C230.83,363.48 236.97,363.47 225.00,363.20 C213.03,362.93 199.60,362.53 188.20,362.00 C176.80,361.47 164.60,361.07 156.60,360.00 C148.60,358.93 144.20,357.38 140.20,355.60 C136.20,353.82 134.40,351.62 132.60,349.30 C130.80,346.98 130.03,344.02 129.40,341.70 C128.77,339.38 128.37,337.18 128.80,335.40 C129.23,333.62 131.05,332.73 132.00,331.00 C132.95,329.27 134.05,329.45 134.50,325.00 C134.95,320.55 134.70,311.02 134.70,304.30 Z"/></clipPath>
<rect x="120" y="249.8" width="325" height="108.8" fill="url(#teak2)" clip-path="url(#mhull)"/>
<rect x="440" y="340" width="11" height="18.6" fill="url(#teak2)" clip-path="url(#mhull)"/>
<path d="M128.5,262 C128.8,257 132,253 137,251 C142,249.5 150,248.5 160,247.6 L192,245.6 L192,250 C178,250.5 165,251.5 158,253.5 C152.5,255.5 149.5,258 148.5,260.2 L128.5,260.2 Z" fill="#fff" stroke="none" stroke-width="0.9" />
<path d="M128.5,346.6 C128.8,351.6 132,355.6 137,357.6 C142,359.1 150,360.1 160,361 L192,363 L192,358.6 C178,358.1 165,357.1 158,355.1 C152.5,353.1 149.5,350.6 148.5,348.4 L128.5,348.4 Z" fill="#fff" stroke="none" stroke-width="0.9" />
<path d="M141.40,255.00 C142.88,254.47 146.08,252.75 150.30,251.80 C154.52,250.85 162.08,249.82 166.70,249.30 C171.32,248.78 172.30,249.03 178.00,248.70 C183.70,248.37 180.57,247.57 200.90,247.30 C221.23,247.03 263.48,247.10 300.00,247.10 C336.52,247.10 386.67,246.90 420.00,247.30 C453.33,247.70 486.67,249.13 500.00,249.50" fill="none" stroke="#30373a" stroke-width="0.95" />
<path d="M141.40,353.60 C142.88,354.13 146.08,355.85 150.30,356.80 C154.52,357.75 162.08,358.78 166.70,359.30 C171.32,359.82 172.30,359.57 178.00,359.90 C183.70,360.23 180.57,361.03 200.90,361.30 C221.23,361.57 263.48,361.50 300.00,361.50 C336.52,361.50 386.67,361.70 420.00,361.30 C453.33,360.90 486.67,359.47 500.00,359.10" fill="none" stroke="#30373a" stroke-width="0.95" />
<path d="M150.30,259.40 C151.57,258.35 154.75,254.67 157.90,253.10 C161.05,251.53 164.15,250.77 169.20,250.00 C174.25,249.23 178.90,248.43 188.20,248.50 C197.50,248.57 182.20,250.08 225.00,250.40 C267.80,250.72 408.33,250.40 445.00,250.40" fill="none" stroke="#30373a" stroke-width="0.9" />
<path d="M150.30,349.20 C151.57,350.25 154.75,353.93 157.90,355.50 C161.05,357.07 164.15,357.83 169.20,358.60 C174.25,359.37 178.90,360.17 188.20,360.10 C197.50,360.03 181.20,358.52 225.00,358.20 C268.80,357.88 413.33,358.20 451.00,358.20" fill="none" stroke="#30373a" stroke-width="0.9" />
<path d="M141.40,255.00 C142.00,256.17 144.05,259.17 145.00,262.00 C145.95,264.83 146.53,268.83 147.10,272.00 C147.67,275.17 148.17,275.62 148.40,281.00 C148.63,286.38 148.50,296.53 148.50,304.30 C148.50,312.07 148.63,322.22 148.40,327.60 C148.17,332.98 147.67,333.43 147.10,336.60 C146.53,339.77 145.95,343.77 145.00,346.60 C144.05,349.43 142.00,352.43 141.40,353.60" fill="none" stroke="#30373a" stroke-width="0.7" />
<path d="M149.7,277.1 C156,277.8 162,278.6 166.7,279.7 L174.3,281 L174.3,327.6 L166.7,328.9 C162,330 156,330.8 149.7,331.5 Z" fill="#fff" stroke="#30373a" stroke-width="0.8" />
<line x1="166.70" y1="279.70" x2="166.70" y2="328.90" stroke="#30373a" stroke-width="0.7"/>
<line x1="166.70" y1="287.90" x2="174.30" y2="287.90" stroke="#2f4f50" stroke-width="0.6"/>
<line x1="166.70" y1="296.10" x2="174.30" y2="296.10" stroke="#2f4f50" stroke-width="0.6"/>
<line x1="166.70" y1="304.30" x2="174.30" y2="304.30" stroke="#2f4f50" stroke-width="0.6"/>
<line x1="166.70" y1="312.50" x2="174.30" y2="312.50" stroke="#2f4f50" stroke-width="0.6"/>
<line x1="166.70" y1="320.70" x2="174.30" y2="320.70" stroke="#2f4f50" stroke-width="0.6"/>
<path d="M193.90,273.30 C192.53,273.42 188.12,273.37 185.70,274.00 C183.28,274.63 180.98,275.60 179.40,277.10 C177.82,278.60 176.83,280.85 176.20,283.00 C175.57,285.15 175.70,286.45 175.60,290.00 C175.50,293.55 175.60,299.53 175.60,304.30 C175.60,309.07 175.50,315.05 175.60,318.60 C175.70,322.15 175.57,323.45 176.20,325.60 C176.83,327.75 177.82,330.00 179.40,331.50 C180.98,333.00 183.28,333.97 185.70,334.60 C188.12,335.23 192.53,335.18 193.90,335.30 L186,335.3 L186,273.3 Z" fill="#fff" stroke="none" stroke-width="0.9" />
<path d="M193.90,273.30 C192.53,273.42 188.12,273.37 185.70,274.00 C183.28,274.63 180.98,275.60 179.40,277.10 C177.82,278.60 176.83,280.85 176.20,283.00 C175.57,285.15 175.70,286.45 175.60,290.00 C175.50,293.55 175.60,299.53 175.60,304.30 C175.60,309.07 175.50,315.05 175.60,318.60 C175.70,322.15 175.57,323.45 176.20,325.60 C176.83,327.75 177.82,330.00 179.40,331.50 C180.98,333.00 183.28,333.97 185.70,334.60 C188.12,335.23 192.53,335.18 193.90,335.30" fill="none" stroke="#30373a" stroke-width="0.8" />
<path d="M193.90,276.00 C192.75,276.13 189.05,276.22 187.00,276.80 C184.95,277.38 182.97,278.13 181.60,279.50 C180.23,280.87 179.35,283.08 178.80,285.00 C178.25,286.92 178.38,287.78 178.30,291.00 C178.22,294.22 178.30,299.87 178.30,304.30 C178.30,308.73 178.22,314.38 178.30,317.60 C178.38,320.82 178.25,321.68 178.80,323.60 C179.35,325.52 180.23,327.73 181.60,329.10 C182.97,330.47 184.95,331.22 187.00,331.80 C189.05,332.38 192.75,332.47 193.90,332.60" fill="none" stroke="#30373a" stroke-width="0.6" />
<path d="M178.3,284 L186,284 L186,324.6 L178.3,324.6" fill="none" stroke="#30373a" stroke-width="0.6" />
<line x1="178.30" y1="291.00" x2="186.00" y2="291.00" stroke="#2f4f50" stroke-width="0.6"/>
<line x1="178.30" y1="300.50" x2="186.00" y2="300.50" stroke="#2f4f50" stroke-width="0.6"/>
<line x1="178.30" y1="308.10" x2="186.00" y2="308.10" stroke="#2f4f50" stroke-width="0.6"/>
<line x1="178.30" y1="317.60" x2="186.00" y2="317.60" stroke="#2f4f50" stroke-width="0.6"/>
<rect x="187.60" y="275.20" width="10.10" height="7.60" fill="#fff" stroke="#30373a" stroke-width="0.7" />
<rect x="187.60" y="325.80" width="10.10" height="7.60" fill="#fff" stroke="#30373a" stroke-width="0.7" />
<rect x="186.90" y="287.90" width="12.10" height="10.70" fill="#fff" stroke="#30373a" stroke-width="0.8" rx="4" />
<rect x="186.90" y="310.00" width="12.10" height="10.70" fill="#fff" stroke="#30373a" stroke-width="0.8" rx="4" />
<path d="M150.3,273.8 C158,273.4 167,272.8 174.3,271.9 L176.8,256.8 C168,257.1 156,257.6 145.2,258 C143.5,259.1 142.5,261.6 142.5,264.6 C142.5,268.6 145.5,272.1 150.3,273.8 Z" fill="#fff" stroke="#30373a" stroke-width="0.75" />
<line x1="151.00" y1="273.40" x2="147.00" y2="257.80" stroke="#30373a" stroke-width="0.55"/>
<line x1="153.70" y1="273.40" x2="150.40" y2="257.80" stroke="#30373a" stroke-width="0.55"/>
<line x1="156.40" y1="273.40" x2="153.80" y2="257.80" stroke="#30373a" stroke-width="0.55"/>
<line x1="159.10" y1="273.40" x2="157.20" y2="257.80" stroke="#30373a" stroke-width="0.55"/>
<line x1="161.80" y1="273.40" x2="160.60" y2="257.80" stroke="#30373a" stroke-width="0.55"/>
<line x1="164.50" y1="273.40" x2="164.00" y2="257.80" stroke="#30373a" stroke-width="0.55"/>
<line x1="167.20" y1="273.40" x2="167.40" y2="257.80" stroke="#30373a" stroke-width="0.55"/>
<line x1="169.90" y1="273.40" x2="170.80" y2="257.80" stroke="#30373a" stroke-width="0.55"/>
<line x1="172.60" y1="273.40" x2="174.20" y2="257.80" stroke="#30373a" stroke-width="0.55"/>
<rect x="83.50" y="261.60" width="44.00" height="8.00" fill="#fff" stroke="#30373a" stroke-width="0.9" rx="1.5" />
<path d="M127.5,260.2 L176.8,260.2 L176.8,269.5 L127.5,269.5 Z" fill="none" stroke="#30373a" stroke-width="0.8" />
<rect x="127.50" y="260.20" width="15.00" height="9.30" fill="#fff" stroke="#30373a" stroke-width="0.8" />
<line x1="130.50" y1="260.20" x2="130.50" y2="269.50" stroke="#30373a" stroke-width="0.6"/>
<line x1="133.00" y1="260.20" x2="133.00" y2="269.50" stroke="#30373a" stroke-width="0.6"/>
<line x1="166.70" y1="260.20" x2="166.70" y2="269.50" stroke="#30373a" stroke-width="0.6"/>
<line x1="168.50" y1="260.20" x2="168.50" y2="269.50" stroke="#30373a" stroke-width="0.5"/>
<path d="M127.5,269.9 L194.5,269.9 C195.5,270.5 195.5,272.5 194.5,273.3" fill="none" stroke="#2f4f50" stroke-width="1.1" />
<rect x="168.00" y="270.60" width="6.00" height="1.60" fill="#777" stroke="none" stroke-width="0.8" />
<path d="M145.20,258.00 C146.33,257.43 148.70,255.42 152.00,254.60 C155.30,253.78 160.67,253.43 165.00,253.10 C169.33,252.77 173.83,252.92 178.00,252.60 C182.17,252.28 188.00,251.43 190.00,251.20" fill="none" stroke="#30373a" stroke-width="0.6" />
<path d="M150.3,334.8 C158,335.2 167,335.8 174.3,336.7 L176.8,351.8 C168,351.5 156,351 145.2,350.6 C143.5,349.5 142.5,347 142.5,344 C142.5,340 145.5,336.5 150.3,334.8 Z" fill="#fff" stroke="#30373a" stroke-width="0.75" />
<line x1="151.00" y1="335.20" x2="147.00" y2="350.80" stroke="#30373a" stroke-width="0.55"/>
<line x1="153.70" y1="335.20" x2="150.40" y2="350.80" stroke="#30373a" stroke-width="0.55"/>
<line x1="156.40" y1="335.20" x2="153.80" y2="350.80" stroke="#30373a" stroke-width="0.55"/>
<line x1="159.10" y1="335.20" x2="157.20" y2="350.80" stroke="#30373a" stroke-width="0.55"/>
<line x1="161.80" y1="335.20" x2="160.60" y2="350.80" stroke="#30373a" stroke-width="0.55"/>
<line x1="164.50" y1="335.20" x2="164.00" y2="350.80" stroke="#30373a" stroke-width="0.55"/>
<line x1="167.20" y1="335.20" x2="167.40" y2="350.80" stroke="#30373a" stroke-width="0.55"/>
<line x1="169.90" y1="335.20" x2="170.80" y2="350.80" stroke="#30373a" stroke-width="0.55"/>
<line x1="172.60" y1="335.20" x2="174.20" y2="350.80" stroke="#30373a" stroke-width="0.55"/>
<path d="M145.20,350.60 C146.33,351.17 148.70,353.18 152.00,354.00 C155.30,354.82 160.67,355.17 165.00,355.50 C169.33,355.83 173.83,355.68 178.00,356.00 C182.17,356.32 188.00,357.17 190.00,357.40" fill="none" stroke="#30373a" stroke-width="0.6" />
<path d="M176.8,351.8 L178,356" fill="none" stroke="#30373a" stroke-width="0.6" />
<rect x="183.80" y="255.30" width="7.6" height="3.2" rx="1.5" fill="#fff" stroke="#30373a" stroke-width="0.65" transform="rotate(-20 187.6 256.9)"/>
<rect x="183.80" y="350.10" width="7.6" height="3.2" rx="1.5" fill="#fff" stroke="#30373a" stroke-width="0.65" transform="rotate(20 187.6 351.7)"/>
<rect x="196.40" y="253.60" width="8.20" height="2.40" fill="#fff" stroke="#30373a" stroke-width="0.6" rx="1.1" />
<rect x="196.40" y="352.60" width="8.20" height="2.40" fill="#fff" stroke="#30373a" stroke-width="0.6" rx="1.1" />
<circle cx="193.90" cy="258.80" r="1.80" fill="#fff" stroke="#30373a" stroke-width="0.6"/>
<circle cx="193.90" cy="349.80" r="1.80" fill="#fff" stroke="#30373a" stroke-width="0.6"/>
<rect x="171.00" y="250.80" width="6.00" height="2.00" fill="#3c3c3c" stroke="none" stroke-width="0.8" />
<path d="M134.70,304.30 C134.70,297.58 134.85,289.23 134.50,284.70 C134.15,280.17 133.55,279.22 132.60,277.10 C131.65,274.98 129.65,274.52 128.80,272.00 C127.95,269.48 127.30,264.73 127.50,262.00 C127.70,259.27 128.52,257.30 130.00,255.60 C131.48,253.90 133.87,252.85 136.40,251.80 C138.93,250.75 140.78,250.03 145.20,249.30 C149.62,248.57 155.73,248.03 162.90,247.40 C170.07,246.77 177.85,246.02 188.20,245.50 C198.55,244.98 206.37,244.52 225.00,244.30 C243.63,244.08 270.83,244.17 300.00,244.20 C329.17,244.23 373.33,244.38 400.00,244.50 C426.67,244.62 443.33,244.40 460.00,244.90 C476.67,245.40 483.73,246.20 500.00,247.50 C516.27,248.80 540.93,251.02 557.60,252.70 C574.27,254.38 590.62,256.43 600.00,257.60 C609.38,258.77 609.27,258.88 613.90,259.70 C618.53,260.52 623.17,261.45 627.80,262.50 C632.43,263.55 636.33,264.45 641.70,266.00 C647.07,267.55 653.97,269.53 660.00,271.80 C666.03,274.07 672.52,276.72 677.90,279.60 C683.28,282.48 688.50,286.12 692.30,289.10 C696.10,292.08 698.90,294.90 700.70,297.50 C702.50,300.10 702.90,302.50 703.10,304.70 C703.30,306.90 703.10,308.32 701.90,310.70 C700.70,313.08 698.90,316.22 695.90,319.00 C692.90,321.78 688.88,324.60 683.90,327.40 C678.92,330.20 671.17,333.65 666.00,335.80 C660.83,337.95 658.10,338.85 652.90,340.30 C647.70,341.75 641.30,343.22 634.80,344.50 C628.30,345.78 620.20,346.63 613.90,348.00 C607.60,349.37 607.37,350.90 597.00,352.70 C586.63,354.50 569.37,357.13 551.70,358.80 C534.03,360.47 516.28,361.85 491.00,362.70 C465.72,363.55 438.50,363.75 400.00,363.90 C361.50,364.05 289.17,363.72 260.00,363.60 C230.83,363.48 236.97,363.47 225.00,363.20 C213.03,362.93 199.60,362.53 188.20,362.00 C176.80,361.47 164.60,361.07 156.60,360.00 C148.60,358.93 144.20,357.38 140.20,355.60 C136.20,353.82 134.40,351.62 132.60,349.30 C130.80,346.98 130.03,344.02 129.40,341.70 C128.77,339.38 128.37,337.18 128.80,335.40 C129.23,333.62 131.05,332.73 132.00,331.00 C132.95,329.27 134.05,329.45 134.50,325.00 C134.95,320.55 134.70,311.02 134.70,304.30 Z" fill="none" stroke="#30373a" stroke-width="0.95" />
<path d="M131.50,276.00 C131.92,277.33 133.12,280.83 134.00,284.00 C134.88,287.17 136.30,291.62 136.80,295.00 C137.30,298.38 137.00,301.20 137.00,304.30 C137.00,307.40 137.30,310.22 136.80,313.60 C136.30,316.98 134.88,321.43 134.00,324.60 C133.12,327.77 131.92,331.27 131.50,332.60" fill="none" stroke="#30373a" stroke-width="0.6" />
<path d="M262,261.6 L300,260.6 L399,260.4 L399,348 L300,347.9 L262,347 C238,344.5 221,327 220.3,304.3 C221,281.5 238,264 262,261.6 Z" fill="#fdc890" stroke="#30373a" stroke-width="0.8" />
<rect x="237.50" y="280.50" width="12.00" height="12.00" fill="#fdc890" stroke="#30373a" stroke-width="0.7" />
<circle cx="243.50" cy="278.00" r="3.30" fill="#fdc890" stroke="#30373a" stroke-width="0.7"/>
<circle cx="243.50" cy="295.00" r="3.30" fill="#fdc890" stroke="#30373a" stroke-width="0.7"/>
<circle cx="235.00" cy="286.50" r="3.30" fill="#fdc890" stroke="#30373a" stroke-width="0.7"/>
<circle cx="252.00" cy="286.50" r="3.30" fill="#fdc890" stroke="#30373a" stroke-width="0.7"/>
<rect x="237.50" y="315.50" width="12.00" height="12.00" fill="#fdc890" stroke="#30373a" stroke-width="0.7" />
<circle cx="243.50" cy="313.00" r="3.30" fill="#fdc890" stroke="#30373a" stroke-width="0.7"/>
<circle cx="243.50" cy="330.00" r="3.30" fill="#fdc890" stroke="#30373a" stroke-width="0.7"/>
<circle cx="235.00" cy="321.50" r="3.30" fill="#fdc890" stroke="#30373a" stroke-width="0.7"/>
<circle cx="252.00" cy="321.50" r="3.30" fill="#fdc890" stroke="#30373a" stroke-width="0.7"/>
<path d="M262.5,261.6 L274.9,261.5 L274.9,285 L266.5,285 Z" fill="#fdc890" stroke="#30373a" stroke-width="0.6" />
<rect x="267.00" y="262.20" width="6.80" height="9.00" fill="#4a4a4a" stroke="none" stroke-width="0.8" />
<line x1="267.50" y1="265.20" x2="273.30" y2="265.20" stroke="#ccc" stroke-width="0.4"/>
<line x1="267.50" y1="268.20" x2="273.30" y2="268.20" stroke="#ccc" stroke-width="0.4"/>
<path d="M274.9,261.5 L287.8,261.5 L287.8,285 C280,285 275,279 274.9,271 Z" fill="#fdc890" stroke="#30373a" stroke-width="0.6" />
<line x1="287.80" y1="283.50" x2="274.80" y2="283.50" stroke="#30373a" stroke-width="0.5"/>
<line x1="287.80" y1="283.50" x2="275.24" y2="280.14" stroke="#30373a" stroke-width="0.5"/>
<line x1="287.80" y1="283.50" x2="276.54" y2="277.00" stroke="#30373a" stroke-width="0.5"/>
<line x1="287.80" y1="283.50" x2="278.61" y2="274.31" stroke="#30373a" stroke-width="0.5"/>
<line x1="287.80" y1="283.50" x2="281.30" y2="272.24" stroke="#30373a" stroke-width="0.5"/>
<line x1="287.80" y1="283.50" x2="284.44" y2="270.94" stroke="#30373a" stroke-width="0.5"/>
<line x1="287.80" y1="283.50" x2="287.80" y2="270.50" stroke="#30373a" stroke-width="0.5"/>
<path d="M275,261.4 C275,258.8 277,258 281.4,258 C285.8,258 287.8,258.8 287.8,261.4 Z" fill="#fff" stroke="#30373a" stroke-width="0.7" />
<line x1="290.00" y1="262.00" x2="290.00" y2="283.00" stroke="#30373a" stroke-width="0.5"/>
<line x1="292.30" y1="262.00" x2="292.30" y2="283.00" stroke="#30373a" stroke-width="0.5"/>
<line x1="294.60" y1="262.00" x2="294.60" y2="283.00" stroke="#30373a" stroke-width="0.5"/>
<line x1="296.90" y1="262.00" x2="296.90" y2="283.00" stroke="#30373a" stroke-width="0.5"/>
<line x1="299.20" y1="262.00" x2="299.20" y2="283.00" stroke="#30373a" stroke-width="0.5"/>
<path d="M287.8,283.5 L301,283.5 L301,261" fill="none" stroke="#30373a" stroke-width="0.5" />
<path d="M264,346.5 L268,322 L287,322 L289,346.5" fill="none" stroke="#30373a" stroke-width="0.7" />
<rect x="290.50" y="290.50" width="13.00" height="12.00" fill="#fdc890" stroke="#30373a" stroke-width="0.8" rx="1.5" />
<rect x="292.00" y="292.00" width="10.00" height="9.00" fill="none" stroke="#30373a" stroke-width="0.5" />
<rect x="290.50" y="305.50" width="13.00" height="12.00" fill="#fdc890" stroke="#30373a" stroke-width="0.8" rx="1.5" />
<rect x="292.00" y="307.00" width="10.00" height="9.00" fill="none" stroke="#30373a" stroke-width="0.5" />
<rect x="310.10" y="271.60" width="35.80" height="13.60" fill="#fdc890" stroke="#30373a" stroke-width="0.8" />
<rect x="311.50" y="273.80" width="33.00" height="11.40" fill="none" stroke="#30373a" stroke-width="0.5" />
<line x1="321.50" y1="273.80" x2="321.50" y2="285.20" stroke="#30373a" stroke-width="0.6"/>
<line x1="333.50" y1="273.80" x2="333.50" y2="285.20" stroke="#30373a" stroke-width="0.6"/>
<rect x="310.10" y="323.40" width="35.80" height="13.60" fill="#fdc890" stroke="#30373a" stroke-width="0.8" />
<rect x="311.50" y="323.40" width="33.00" height="11.40" fill="none" stroke="#30373a" stroke-width="0.5" />
<line x1="321.50" y1="323.40" x2="321.50" y2="334.80" stroke="#30373a" stroke-width="0.6"/>
<line x1="333.50" y1="323.40" x2="333.50" y2="334.80" stroke="#30373a" stroke-width="0.6"/>
<rect x="315.80" y="291.00" width="22.50" height="9.80" fill="#fdc890" stroke="#30373a" stroke-width="0.8" />
<rect x="315.80" y="308.00" width="22.50" height="9.70" fill="#fdc890" stroke="#30373a" stroke-width="0.8" />
<rect x="369.80" y="287.90" width="7.4" height="6.8" fill="#fdc890" stroke="#30373a" stroke-width="0.75" rx="1.2" transform="rotate(0.0 373.50 291.30)"/>
<line x1="370.30" y1="293.10" x2="376.70" y2="293.10" stroke="#30373a" stroke-width="0.5" transform="rotate(0.0 373.50 291.30)"/>
<rect x="381.23" y="294.50" width="7.4" height="6.8" fill="#fdc890" stroke="#30373a" stroke-width="0.75" rx="1.2" transform="rotate(60.0 384.93 297.90)"/>
<line x1="381.73" y1="299.70" x2="388.13" y2="299.70" stroke="#30373a" stroke-width="0.5" transform="rotate(60.0 384.93 297.90)"/>
<rect x="381.23" y="307.70" width="7.4" height="6.8" fill="#fdc890" stroke="#30373a" stroke-width="0.75" rx="1.2" transform="rotate(120.0 384.93 311.10)"/>
<line x1="381.73" y1="312.90" x2="388.13" y2="312.90" stroke="#30373a" stroke-width="0.5" transform="rotate(120.0 384.93 311.10)"/>
<rect x="369.80" y="314.30" width="7.4" height="6.8" fill="#fdc890" stroke="#30373a" stroke-width="0.75" rx="1.2" transform="rotate(180.0 373.50 317.70)"/>
<line x1="370.30" y1="319.50" x2="376.70" y2="319.50" stroke="#30373a" stroke-width="0.5" transform="rotate(180.0 373.50 317.70)"/>
<rect x="358.37" y="307.70" width="7.4" height="6.8" fill="#fdc890" stroke="#30373a" stroke-width="0.75" rx="1.2" transform="rotate(240.0 362.07 311.10)"/>
<line x1="358.87" y1="312.90" x2="365.27" y2="312.90" stroke="#30373a" stroke-width="0.5" transform="rotate(240.0 362.07 311.10)"/>
<rect x="358.37" y="294.50" width="7.4" height="6.8" fill="#fdc890" stroke="#30373a" stroke-width="0.75" rx="1.2" transform="rotate(300.0 362.07 297.90)"/>
<line x1="358.87" y1="299.70" x2="365.27" y2="299.70" stroke="#30373a" stroke-width="0.5" transform="rotate(300.0 362.07 297.90)"/>
<polygon points="382.10,304.50 377.80,311.95 369.20,311.95 364.90,304.50 369.20,297.05 377.80,297.05" fill="#fdc890" stroke="#30373a" stroke-width="0.75"/>
<path d="M293,263.5 C298,261 304,260.2 312,260 L399,260.2" fill="none" stroke="#30373a" stroke-width="0.6" />
<line x1="302.00" y1="262.60" x2="399.00" y2="262.60" stroke="#30373a" stroke-width="0.6"/>
<line x1="302.00" y1="346.00" x2="399.00" y2="346.00" stroke="#30373a" stroke-width="0.6"/>
<path d="M293,345.1 C298,347.6 304,348.4 312,348.6 L399,348.4" fill="none" stroke="#30373a" stroke-width="0.6" />
<rect x="315.40" y="259.60" width="3.40" height="7.00" fill="#fdc890" stroke="#30373a" stroke-width="0.7" rx="1.5" />
<rect x="315.40" y="341.80" width="3.40" height="7.00" fill="#fdc890" stroke="#30373a" stroke-width="0.7" rx="1.5" />
<rect x="343.90" y="259.60" width="3.40" height="7.00" fill="#fdc890" stroke="#30373a" stroke-width="0.7" rx="1.5" />
<rect x="343.90" y="341.80" width="3.40" height="7.00" fill="#fdc890" stroke="#30373a" stroke-width="0.7" rx="1.5" />
<rect x="371.70" y="259.60" width="3.40" height="7.00" fill="#fdc890" stroke="#30373a" stroke-width="0.7" rx="1.5" />
<rect x="371.70" y="341.80" width="3.40" height="7.00" fill="#fdc890" stroke="#30373a" stroke-width="0.7" rx="1.5" />
<path d="M399,260.2 L445,259.5 L445,250.6 L501,248.2 L501,348 L452,348 L399,347.8 Z" fill="#fff" stroke="none" stroke-width="0.9" />
<line x1="399.50" y1="261.50" x2="473.50" y2="261.50" stroke="#30373a" stroke-width="0.8"/>
<rect x="443.00" y="250.70" width="14.50" height="10.60" fill="#fff" stroke="#30373a" stroke-width="0.7" />
<rect x="458.50" y="250.70" width="14.50" height="10.60" fill="#fff" stroke="#30373a" stroke-width="0.7" />
<path d="M473.5,249 L473.5,282 M401,261.5 L401,347" fill="none" stroke="#30373a" stroke-width="0.7" />
<path d="M408.8,261.5 L408.8,294 L461,294 L461,275 L473.5,275" fill="none" stroke="#30373a" stroke-width="0.7" />
<rect x="418.00" y="272.00" width="27.00" height="13.00" fill="#fff" stroke="#30373a" stroke-width="0.8" />
<rect x="401.00" y="279.00" width="7.00" height="8.00" fill="#fff" stroke="#30373a" stroke-width="0.6" />
<rect x="454.00" y="278.00" width="5.00" height="4.00" fill="#444" stroke="none" stroke-width="0.8" />
<rect x="454.00" y="283.00" width="5.00" height="5.00" fill="#fff" stroke="#30373a" stroke-width="0.5" />
<rect x="454.00" y="289.00" width="5.00" height="5.00" fill="#fff" stroke="#30373a" stroke-width="0.5" />
<rect x="430.00" y="294.50" width="7.80" height="8.00" fill="#555" stroke="#30373a" stroke-width="0.6" />
<rect x="438.30" y="294.50" width="7.80" height="8.00" fill="#555" stroke="#30373a" stroke-width="0.6" />
<circle cx="432.00" cy="296.50" r="1.10" fill="none" stroke="#ddd" stroke-width="0.4"/>
<circle cx="435.80" cy="296.50" r="1.10" fill="none" stroke="#ddd" stroke-width="0.4"/>
<circle cx="432.00" cy="300.50" r="1.10" fill="none" stroke="#ddd" stroke-width="0.4"/>
<circle cx="435.80" cy="300.50" r="1.10" fill="none" stroke="#ddd" stroke-width="0.4"/>
<circle cx="440.30" cy="296.50" r="1.10" fill="none" stroke="#ddd" stroke-width="0.4"/>
<circle cx="444.10" cy="296.50" r="1.10" fill="none" stroke="#ddd" stroke-width="0.4"/>
<circle cx="440.30" cy="300.50" r="1.10" fill="none" stroke="#ddd" stroke-width="0.4"/>
<circle cx="444.10" cy="300.50" r="1.10" fill="none" stroke="#ddd" stroke-width="0.4"/>
<line x1="400.00" y1="304.30" x2="480.00" y2="304.30" stroke="#30373a" stroke-width="0.7"/>
<path d="M461,282 L479,282 C482,282 486,286 486,291 L486,304" fill="none" stroke="#30373a" stroke-width="0.7" />
<line x1="461.00" y1="282.00" x2="461.00" y2="304.00" stroke="#30373a" stroke-width="0.6"/>
<path d="M411.00,305.5 C408.80,309 408.80,314.5 411.00,318.5" fill="none" stroke="#30373a" stroke-width="0.6" />
<path d="M413.40,305.5 C411.20,309 411.20,314.5 413.40,318.5" fill="none" stroke="#30373a" stroke-width="0.6" />
<path d="M415.80,305.5 C413.60,309 413.60,314.5 415.80,318.5" fill="none" stroke="#30373a" stroke-width="0.6" />
<path d="M418.20,305.5 C416.00,309 416.00,314.5 418.20,318.5" fill="none" stroke="#30373a" stroke-width="0.6" />
<path d="M420.60,305.5 C418.40,309 418.40,314.5 420.60,318.5" fill="none" stroke="#30373a" stroke-width="0.6" />
<path d="M423.00,305.5 C420.80,309 420.80,314.5 423.00,318.5" fill="none" stroke="#30373a" stroke-width="0.6" />
<path d="M425.40,305.5 C423.20,309 423.20,314.5 425.40,318.5" fill="none" stroke="#30373a" stroke-width="0.6" />
<path d="M427.80,305.5 C425.60,309 425.60,314.5 427.80,318.5" fill="none" stroke="#30373a" stroke-width="0.6" />
<path d="M430.20,305.5 C428.00,309 428.00,314.5 430.20,318.5" fill="none" stroke="#30373a" stroke-width="0.6" />
<path d="M432,318.5 L432,305.5 C439,305.5 445.5,311 445.5,318.5" fill="none" stroke="#30373a" stroke-width="0.7" />
<line x1="432.00" y1="318.50" x2="435.72" y2="305.52" stroke="#30373a" stroke-width="0.55"/>
<line x1="432.00" y1="318.50" x2="439.15" y2="307.05" stroke="#30373a" stroke-width="0.55"/>
<line x1="432.00" y1="318.50" x2="442.03" y2="309.47" stroke="#30373a" stroke-width="0.55"/>
<line x1="432.00" y1="318.50" x2="444.13" y2="312.58" stroke="#30373a" stroke-width="0.55"/>
<line x1="432.00" y1="318.50" x2="445.29" y2="316.16" stroke="#30373a" stroke-width="0.55"/>
<path d="M459,318.5 L459,305.5 C452,305.5 446.5,311 446.5,318.5" fill="none" stroke="#30373a" stroke-width="0.7" />
<line x1="459.00" y1="318.50" x2="455.55" y2="306.48" stroke="#30373a" stroke-width="0.55"/>
<line x1="459.00" y1="318.50" x2="452.38" y2="307.90" stroke="#30373a" stroke-width="0.55"/>
<line x1="459.00" y1="318.50" x2="449.71" y2="310.14" stroke="#30373a" stroke-width="0.55"/>
<line x1="459.00" y1="318.50" x2="447.77" y2="313.02" stroke="#30373a" stroke-width="0.55"/>
<line x1="459.00" y1="318.50" x2="446.69" y2="316.33" stroke="#30373a" stroke-width="0.55"/>
<path d="M461.00,305.5 C463.00,309 463.00,314.5 461.00,318.5" fill="none" stroke="#30373a" stroke-width="0.6" />
<path d="M463.30,305.5 C465.30,309 465.30,314.5 463.30,318.5" fill="none" stroke="#30373a" stroke-width="0.6" />
<path d="M465.60,305.5 C467.60,309 467.60,314.5 465.60,318.5" fill="none" stroke="#30373a" stroke-width="0.6" />
<path d="M467.90,305.5 C469.90,309 469.90,314.5 467.90,318.5" fill="none" stroke="#30373a" stroke-width="0.6" />
<path d="M470.20,305.5 C472.20,309 472.20,314.5 470.20,318.5" fill="none" stroke="#30373a" stroke-width="0.6" />
<rect x="433.00" y="318.70" width="12.50" height="3.50" fill="#fff" stroke="#30373a" stroke-width="0.5" />
<rect x="446.50" y="318.70" width="12.50" height="3.50" fill="#fff" stroke="#30373a" stroke-width="0.5" />
<circle cx="415.80" cy="322.00" r="1.70" fill="#fff" stroke="#30373a" stroke-width="0.8"/>
<circle cx="415.80" cy="322.00" r="0.70" fill="#333" stroke="none" stroke-width="0.8"/>
<circle cx="445.80" cy="306.70" r="1.70" fill="#fff" stroke="#30373a" stroke-width="0.8"/>
<circle cx="445.80" cy="306.70" r="0.70" fill="#333" stroke="none" stroke-width="0.8"/>
<circle cx="471.30" cy="321.60" r="1.70" fill="#fff" stroke="#30373a" stroke-width="0.8"/>
<circle cx="471.30" cy="321.60" r="0.70" fill="#333" stroke="none" stroke-width="0.8"/>
<circle cx="445.30" cy="340.10" r="1.70" fill="#fff" stroke="#30373a" stroke-width="0.8"/>
<circle cx="445.30" cy="340.10" r="0.70" fill="#333" stroke="none" stroke-width="0.8"/>
<circle cx="401.50" cy="304.30" r="1.30" fill="#fff" stroke="#30373a" stroke-width="0.6"/>
<path d="M481,261.5 L481,330 M486,270 L496,270 M481,316 L497,316 M481,304.5 L497,304.5 L497,330" fill="none" stroke="#30373a" stroke-width="0.6" />
<path d="M474,262 L488,264 L494,276 L490,290 L496,300" fill="none" stroke="#30373a" stroke-width="0.6" />
<path d="M480,262 L490,260 L500,270 L497,283" fill="none" stroke="#30373a" stroke-width="0.6" />
<rect x="484.00" y="322.00" width="14.00" height="3.00" fill="#fff" stroke="#30373a" stroke-width="0.5" rx="1.2" />
<rect x="400.50" y="343.00" width="21.50" height="6.30" fill="#fff" stroke="#30373a" stroke-width="0.6" rx="1" />
<line x1="434.00" y1="342.50" x2="434.00" y2="355.00" stroke="#30373a" stroke-width="0.5"/>
<line x1="436.30" y1="342.50" x2="436.30" y2="355.00" stroke="#30373a" stroke-width="0.5"/>
<line x1="438.60" y1="342.50" x2="438.60" y2="355.00" stroke="#30373a" stroke-width="0.5"/>
<line x1="440.90" y1="342.50" x2="440.90" y2="355.00" stroke="#30373a" stroke-width="0.5"/>
<line x1="443.20" y1="342.50" x2="443.20" y2="355.00" stroke="#30373a" stroke-width="0.5"/>
<line x1="445.50" y1="342.50" x2="445.50" y2="355.00" stroke="#30373a" stroke-width="0.5"/>
<line x1="447.80" y1="342.50" x2="447.80" y2="355.00" stroke="#30373a" stroke-width="0.5"/>
<line x1="450.10" y1="342.50" x2="450.10" y2="355.00" stroke="#30373a" stroke-width="0.5"/>
<line x1="452.40" y1="342.50" x2="452.40" y2="355.00" stroke="#30373a" stroke-width="0.5"/>
<path d="M433,342.5 C433,339 436,337 440,337 M433,355 C433,358 436,359.5 440,359.5" fill="none" stroke="#30373a" stroke-width="0.5" />
<rect x="412.00" y="355.20" width="9.00" height="2.30" fill="#fff" stroke="#30373a" stroke-width="0.5" rx="1" />
<rect x="412.00" y="250.90" width="9.00" height="2.30" fill="#fff" stroke="#30373a" stroke-width="0.5" rx="1" />
<path d="M501.3,248.2 L558.5,252.5 L558.5,272 L563.5,290 L573.9,289.7 L573.9,316.9 L563.1,316.9 L558.5,335 L558.5,356 L540,358.5 L491,360.6 L475,360.8 L474.8,324.7 L519,324.7 L519,305 L502.6,300 L502.6,281.7 L507,269 L501.3,256.4 Z" fill="#cd9ccf" stroke="#30373a" stroke-width="0.7" />
<path d="M558.5,252.5 L575,254.2 L590.3,256.2 L590.3,290.2 L563.5,290 L558.5,272 Z" fill="#96dfe9" stroke="#30373a" stroke-width="0.7" />
<path d="M573.9,289.7 L596,289.7 L596,316.9 L573.9,316.9 Z" fill="#96dfe9" stroke="#30373a" stroke-width="0.7" />
<path d="M563.1,316.9 L590.3,318 L590.3,351.5 L575,354 L558.5,356 L558.5,335 Z" fill="#96dfe9" stroke="#30373a" stroke-width="0.7" />
<path d="M449.5,336 L474.8,336 L474.8,360.8 L449.5,360.8 Z" fill="#96dfe9" stroke="#30373a" stroke-width="0.7" />
<rect x="564.50" y="265.50" width="3.60" height="5.40" fill="#96dfe9" stroke="#30373a" stroke-width="0.7" rx="1.5" />
<rect x="564.50" y="337.00" width="3.60" height="5.40" fill="#96dfe9" stroke="#30373a" stroke-width="0.7" rx="1.5" />
<rect x="570.00" y="265.50" width="3.60" height="5.40" fill="#96dfe9" stroke="#30373a" stroke-width="0.7" rx="1.5" />
<rect x="570.00" y="337.00" width="3.60" height="5.40" fill="#96dfe9" stroke="#30373a" stroke-width="0.7" rx="1.5" />
<path d="M562,255 L585,257 L585,264 L562,263 Z" fill="none" stroke="#30373a" stroke-width="0.6" />
<path d="M562,350 L585,348 L585,341 L562,342 Z" fill="none" stroke="#30373a" stroke-width="0.6" />
<rect x="581.00" y="274.00" width="3.50" height="5.50" fill="none" stroke="#30373a" stroke-width="0.7" rx="1.3" />
<rect x="581.00" y="327.00" width="3.50" height="5.50" fill="none" stroke="#30373a" stroke-width="0.7" rx="1.3" />
<line x1="593.50" y1="303.00" x2="590.42" y2="312.30" stroke="#30373a" stroke-width="0.5"/>
<line x1="593.50" y1="303.00" x2="587.96" y2="310.80" stroke="#30373a" stroke-width="0.5"/>
<line x1="593.50" y1="303.00" x2="586.04" y2="308.54" stroke="#30373a" stroke-width="0.5"/>
<line x1="593.50" y1="303.00" x2="584.85" y2="305.73" stroke="#30373a" stroke-width="0.5"/>
<line x1="593.50" y1="303.00" x2="584.51" y2="302.65" stroke="#30373a" stroke-width="0.5"/>
<line x1="593.50" y1="303.00" x2="585.04" y2="299.61" stroke="#30373a" stroke-width="0.5"/>
<line x1="593.50" y1="303.00" x2="586.41" y2="296.90" stroke="#30373a" stroke-width="0.5"/>
<line x1="593.50" y1="303.00" x2="588.47" y2="294.79" stroke="#30373a" stroke-width="0.5"/>
<line x1="565.00" y1="281.00" x2="572.00" y2="286.00" stroke="#30373a" stroke-width="0.5"/>
<line x1="565.00" y1="326.00" x2="572.00" y2="321.00" stroke="#30373a" stroke-width="0.5"/>
<rect x="453.00" y="338.50" width="9.00" height="9.00" fill="none" stroke="#30373a" stroke-width="0.6" />
<rect x="455.00" y="347.00" width="6.00" height="10.00" fill="none" stroke="#30373a" stroke-width="0.6" />
<rect x="465.50" y="350.00" width="3.50" height="5.50" fill="none" stroke="#30373a" stroke-width="0.7" rx="1.5" />
<line x1="462.00" y1="346.00" x2="474.00" y2="340.00" stroke="#30373a" stroke-width="0.5"/>
<line x1="501.30" y1="265.80" x2="558.50" y2="265.80" stroke="#30373a" stroke-width="0.6"/>
<rect x="503.00" y="250.00" width="27.00" height="3.20" fill="none" stroke="#30373a" stroke-width="0.5" />
<rect x="530.00" y="252.00" width="25.00" height="3.20" fill="none" stroke="#30373a" stroke-width="0.5" />
<rect x="523.50" y="257.50" width="4.00" height="5.00" fill="none" stroke="#30373a" stroke-width="0.6" />
<circle cx="554.00" cy="260.00" r="2.20" fill="none" stroke="#30373a" stroke-width="0.6"/>
<rect x="538.00" y="263.00" width="9.00" height="7.00" fill="none" stroke="#30373a" stroke-width="0.6" />
<rect x="538.10" y="290.40" width="36.00" height="28.40" fill="none" stroke="#30373a" stroke-width="0.8" />
<rect x="560.40" y="292.00" width="6.90" height="12.50" fill="none" stroke="#30373a" stroke-width="0.6" />
<rect x="560.40" y="305.80" width="6.90" height="11.50" fill="none" stroke="#30373a" stroke-width="0.6" />
<path d="M553,291 L558,304.5 L553,318 M559,304.5 L553,304.5" fill="none" stroke="#30373a" stroke-width="0.5" />
<rect x="503.00" y="284.00" width="7.00" height="8.50" fill="#555" stroke="none" stroke-width="0.8" />
<rect x="504.00" y="295.00" width="6.00" height="6.00" fill="#555" stroke="none" stroke-width="0.8" transform="rotate(45 507 298)"/>
<rect x="512.00" y="296.00" width="5.00" height="5.00" fill="#555" stroke="none" stroke-width="0.8" />
<path d="M519,290 L519,325 M519,290 L524,290 L524,322 L519,322" fill="none" stroke="#30373a" stroke-width="0.6" />
<path d="M502.6,281.7 L519,281.7" fill="none" stroke="#30373a" stroke-width="0.6" />
<line x1="499.00" y1="307.00" x2="499.00" y2="317.00" stroke="#30373a" stroke-width="0.6"/>
<line x1="501.40" y1="307.00" x2="501.40" y2="317.00" stroke="#30373a" stroke-width="0.6"/>
<line x1="503.80" y1="307.00" x2="503.80" y2="317.00" stroke="#30373a" stroke-width="0.6"/>
<line x1="506.20" y1="307.00" x2="506.20" y2="317.00" stroke="#30373a" stroke-width="0.6"/>
<line x1="508.60" y1="307.00" x2="508.60" y2="317.00" stroke="#30373a" stroke-width="0.6"/>
<line x1="511.00" y1="307.00" x2="511.00" y2="317.00" stroke="#30373a" stroke-width="0.6"/>
<line x1="513.40" y1="307.00" x2="513.40" y2="317.00" stroke="#30373a" stroke-width="0.6"/>
<line x1="515.80" y1="307.00" x2="515.80" y2="317.00" stroke="#30373a" stroke-width="0.6"/>
<rect x="498.00" y="307.00" width="20.00" height="10.00" fill="none" stroke="#30373a" stroke-width="0.6" />
<line x1="480.00" y1="337.00" x2="541.00" y2="337.00" stroke="#30373a" stroke-width="0.6"/>
<line x1="480.00" y1="347.00" x2="541.00" y2="347.00" stroke="#30373a" stroke-width="0.6"/>
<path d="M480,347 L495,337 M521,347 L536,337" fill="none" stroke="#30373a" stroke-width="0.5" />
<line x1="496.00" y1="337.00" x2="496.00" y2="347.00" stroke="#30373a" stroke-width="0.5"/>
<line x1="520.00" y1="337.00" x2="520.00" y2="347.00" stroke="#30373a" stroke-width="0.5"/>
<rect x="504.50" y="333.00" width="8.00" height="9.00" fill="none" stroke="#30373a" stroke-width="0.6" rx="1.5" />
<rect x="478.00" y="349.50" width="22.00" height="3.00" fill="none" stroke="#30373a" stroke-width="0.5" rx="1.3" />
<rect x="502.00" y="349.50" width="22.00" height="3.00" fill="none" stroke="#30373a" stroke-width="0.5" rx="1.3" />
<path d="M541,330 L541,347 L556,347 L556,330 Z" fill="none" stroke="#30373a" stroke-width="0.5" />
<path d="M520,324.7 L537,330 L541,330" fill="none" stroke="#30373a" stroke-width="0.5" />
<line x1="512.00" y1="281.00" x2="518.00" y2="277.00" stroke="#30373a" stroke-width="0.5"/>
<path d="M590.3,256.2 L603.1,257.9 L603.1,351.2 L590.3,351.5" fill="none" stroke="#30373a" stroke-width="0.7" />
<line x1="603.10" y1="258.00" x2="603.10" y2="351.00" stroke="#30373a" stroke-width="0.8"/>
<path d="M603.10,258.20 C604.90,258.87 609.78,260.78 613.90,262.20 C618.02,263.62 623.17,265.02 627.80,266.70 C632.43,268.38 636.33,270.05 641.70,272.30 C647.07,274.55 654.95,277.80 660.00,280.20 C665.05,282.60 668.62,284.42 672.00,286.70 C675.38,288.98 678.25,291.68 680.30,293.90 C682.35,296.12 683.50,298.20 684.30,300.00 C685.10,301.80 685.12,303.20 685.10,304.70 C685.08,306.20 685.00,307.20 684.20,309.00 C683.40,310.80 682.33,313.23 680.30,315.50 C678.27,317.77 675.38,320.22 672.00,322.60 C668.62,324.98 665.05,327.30 660.00,329.80 C654.95,332.30 648.22,335.15 641.70,337.60 C635.18,340.05 627.15,342.68 620.90,344.50 C614.65,346.32 606.98,347.83 604.20,348.50" fill="none" stroke="#30373a" stroke-width="1.0" />
<path d="M592,266 L600.5,267.5 L601,276 L592,274 Z" fill="#fff" stroke="#30373a" stroke-width="0.6" />
<rect x="618.50" y="300.40" width="8.70" height="7.90" fill="#fff" stroke="#30373a" stroke-width="0.75" />
<path d="M614.4,284.2 L620,295.5" fill="none" stroke="#30373a" stroke-width="0.9" />
<circle cx="620.00" cy="295.50" r="1.60" fill="#fff" stroke="#30373a" stroke-width="0.8"/>
<circle cx="614.40" cy="284.20" r="1.00" fill="#333" stroke="none" stroke-width="0.8"/>
<circle cx="616.90" cy="293.00" r="0.90" fill="#333" stroke="none" stroke-width="0.8"/>
<path d="M614.4,324.7 L620,313" fill="none" stroke="#30373a" stroke-width="0.9" />
<circle cx="620.00" cy="313.00" r="1.60" fill="#fff" stroke="#30373a" stroke-width="0.8"/>
<circle cx="614.40" cy="324.70" r="1.00" fill="#333" stroke="none" stroke-width="0.8"/>
<circle cx="616.90" cy="316.00" r="0.90" fill="#333" stroke="none" stroke-width="0.8"/>
<path d="M134.50,482.00 C134.50,476.22 134.43,466.92 133.80,462.90 C133.17,458.88 131.53,460.05 130.70,457.90 C129.87,455.75 128.83,452.40 128.80,450.00 C128.77,447.60 129.55,445.42 130.50,443.50 C131.45,441.58 132.68,440.00 134.50,438.50 C136.32,437.00 136.67,435.48 141.40,434.50 C146.13,433.52 155.10,433.33 162.90,432.60 C170.70,431.87 177.85,430.73 188.20,430.10 C198.55,429.47 201.37,429.10 225.00,428.80 C248.63,428.50 292.50,428.33 330.00,428.30 C367.50,428.27 418.33,427.98 450.00,428.60 C481.67,429.22 501.67,430.85 520.00,432.00 C538.33,433.15 548.33,434.07 560.00,435.50 C571.67,436.93 582.47,439.37 590.00,440.60 C597.53,441.83 598.53,441.82 605.20,442.90 C611.87,443.98 622.92,445.67 630.00,447.10 C637.08,448.53 641.80,449.58 647.70,451.50 C653.60,453.42 659.50,455.80 665.40,458.60 C671.30,461.40 678.50,465.48 683.10,468.30 C687.70,471.12 690.27,473.38 693.00,475.50 C695.73,477.62 697.85,479.18 699.50,481.00 C701.15,482.82 702.27,484.93 702.90,486.40 C703.53,487.87 703.37,488.52 703.30,489.80 C703.23,491.08 703.05,492.78 702.50,494.10 C701.95,495.42 701.77,496.08 700.00,497.70 C698.23,499.32 694.72,501.82 691.90,503.80 C689.08,505.78 687.52,507.38 683.10,509.60 C678.68,511.82 671.30,514.82 665.40,517.10 C659.50,519.38 653.60,521.30 647.70,523.30 C641.80,525.30 634.57,527.65 630.00,529.10 C625.43,530.55 624.43,531.13 620.30,532.00 C616.17,532.87 610.25,533.53 605.20,534.30 C600.15,535.07 597.53,535.65 590.00,536.60 C582.47,537.55 571.67,538.85 560.00,540.00 C548.33,541.15 538.33,542.42 520.00,543.50 C501.67,544.58 481.67,545.70 450.00,546.50 C418.33,547.30 367.50,548.02 330.00,548.30 C292.50,548.58 250.73,548.53 225.00,548.20 C199.27,547.87 188.05,547.13 175.60,546.30 C163.15,545.47 156.63,544.57 150.30,543.20 C143.97,541.83 140.73,539.97 137.60,538.10 C134.47,536.23 132.85,533.85 131.50,532.00 C130.15,530.15 129.88,528.75 129.50,527.00 C129.12,525.25 128.87,523.17 129.20,521.50 C129.53,519.83 130.73,520.98 131.50,517.00 C132.27,513.02 133.30,503.43 133.80,497.60 C134.30,491.77 134.50,487.78 134.50,482.00 Z" fill="#fff" stroke="#30373a" stroke-width="0.95" />
<path d="M141.00,437.50 C144.17,437.08 151.83,435.67 160.00,435.00 C168.17,434.33 179.17,433.90 190.00,433.50 C200.83,433.10 201.67,432.93 225.00,432.60 C248.33,432.27 292.50,431.60 330.00,431.50 C367.50,431.40 420.83,431.50 450.00,432.00 C479.17,432.50 495.83,434.08 505.00,434.50" fill="none" stroke="#30373a" stroke-width="0.7" />
<path d="M141.00,539.50 C144.17,539.83 151.83,540.83 160.00,541.50 C168.17,542.17 179.17,543.03 190.00,543.50 C200.83,543.97 201.67,543.97 225.00,544.30 C248.33,544.63 292.50,545.30 330.00,545.50 C367.50,545.70 420.83,545.92 450.00,545.50 C479.17,545.08 495.83,543.42 505.00,543.00" fill="none" stroke="#30373a" stroke-width="0.7" />
<path d="M132.5,441.5 C135,437.5 140,435.5 146,435 L153,435.2 C149,437.5 147.2,441 147.2,447 L147.2,530 C147.2,536 149.5,539.5 154,541.5 L150.3,543.2 C143,541.5 137.6,538.1 134,534 C131,530 130.5,525 131.5,520 C133,517 133.8,510 134,497 L134.5,482 L133.8,463 C132,460 130.5,457 130.5,452 C130.5,447 131.3,444 132.5,441.5 Z" fill="url(#teak2)" stroke="#30373a" stroke-width="0.6" />
<path d="M147.2,447 L147.2,530" fill="none" stroke="#30373a" stroke-width="0.7" />
<path d="M136,455 C138,458 138.5,462 138.5,470 L138.5,510 C138.5,516 138,519 136,522" fill="none" stroke="#c8a89c" stroke-width="0.5" />
<rect x="83.90" y="445.40" width="40.40" height="8.50" fill="#fff" stroke="#30373a" stroke-width="0.9" rx="1.5" />
<path d="M124.3,444.6 L221.9,444.6 L221.9,453.9 L124.3,453.9 Z" fill="none" stroke="#30373a" stroke-width="0.9" />
<rect x="124.30" y="444.60" width="4.00" height="9.30" fill="#fff" stroke="#30373a" stroke-width="0.7" />
<rect x="170.50" y="444.60" width="6.70" height="9.30" fill="#fff" stroke="#30373a" stroke-width="0.7" />
<line x1="173.20" y1="444.60" x2="173.20" y2="453.90" stroke="#30373a" stroke-width="0.6"/>
<rect x="177.20" y="446.30" width="43.00" height="5.80" fill="#fff" stroke="#30373a" stroke-width="0.8" />
<path d="M141,437.5 C150,434.5 165,433.6 180,433.8 C195,434 205,436 212,440" fill="none" stroke="#30373a" stroke-width="0.6" />
<path d="M150,440 C158,436.5 170,435.6 178,436 C186,437 190,440 192,444.6" fill="none" stroke="#30373a" stroke-width="0.6" />
<path d="M165,437 C170,438 173,441 174,444.6" fill="none" stroke="#30373a" stroke-width="0.6" />
<path d="M190,437 C200,437.5 208,440 214,444.6" fill="none" stroke="#30373a" stroke-width="0.5" />
<path d="M141,539.5 C150,542.5 165,543.4 180,543.2 C195,543 205,541 212,537" fill="none" stroke="#30373a" stroke-width="0.6" />
<path d="M150,537 C158,540.5 170,541.4 178,541 C186,540 190,537 192,532" fill="none" stroke="#30373a" stroke-width="0.6" />
<path d="M165,540 C170,539 173,536 174,532" fill="none" stroke="#30373a" stroke-width="0.6" />
<path d="M151,456.2 L195.4,456.2 L194.5,458 M151,519.5 L195.4,519.5 L194.5,517.7" fill="none" stroke="#30373a" stroke-width="0.7" />
<path d="M150.1,462.2 L172.4,463.9 C175,464.5 176.6,466 176.6,470 L176.6,508 C176.6,512 175,513.5 172.4,514 L150.1,515.8" fill="none" stroke="#30373a" stroke-width="0.7" />
<path d="M176.6,465.6 L188,466 C190,466.5 190.5,468 190.5,471 L190.5,506 C190.5,509 190,510.5 188,511 L176.6,511.4" fill="none" stroke="#30373a" stroke-width="0.7" />
<path d="M150.1,462.2 C149,470 148.8,480 148.8,489 C148.8,498 149,508 150.1,515.8" fill="none" stroke="#30373a" stroke-width="0.5" />
<path d="M186,456.2 C183,458 181,461 180.5,466 M186,519.5 C183,518 181,515 180.5,511" fill="none" stroke="#30373a" stroke-width="0.6" />
<path d="M157,472.1 L210,472.1 C222,473 232,478 241.6,488.7 C232,499 222,505 210,505.8 L157,505.8" fill="#fff" stroke="#30373a" stroke-width="0.75" />
<path d="M157,472.1 L154.4,475.5 L160.5,478 L157.5,483 L161,488.7 L157.5,494.5 L160.5,499.5 L154.4,502.5 L157,505.8" fill="#fff" stroke="#30373a" stroke-width="0.7" />
<line x1="173.20" y1="472.10" x2="173.20" y2="505.80" stroke="#30373a" stroke-width="0.6"/>
<line x1="176.60" y1="472.10" x2="176.60" y2="505.80" stroke="#30373a" stroke-width="0.5"/>
<path d="M223.6,473.3 C231,476.5 237,480 241.6,482.7 L242.6,488.7 L241.6,494.7 C237,497.5 231,501 223.6,504.1" fill="none" stroke="#30373a" stroke-width="0.7" />
<path d="M223.6,475.3 C230,478 235.5,481 239.6,483.7 L240.4,488.7 L239.6,493.7 C235.5,496.5 230,499.5 223.6,502.1" fill="none" stroke="#30373a" stroke-width="0.5" />
<circle cx="203.30" cy="522.30" r="1.70" fill="#fff" stroke="#30373a" stroke-width="0.6"/>
<circle cx="208.15" cy="522.30" r="1.70" fill="#fff" stroke="#30373a" stroke-width="0.6"/>
<circle cx="213.00" cy="522.30" r="1.70" fill="#fff" stroke="#30373a" stroke-width="0.6"/>
<circle cx="217.85" cy="522.30" r="1.70" fill="#fff" stroke="#30373a" stroke-width="0.6"/>
<circle cx="222.70" cy="522.30" r="1.70" fill="#fff" stroke="#30373a" stroke-width="0.6"/>
<circle cx="203.30" cy="527.30" r="1.70" fill="#fff" stroke="#30373a" stroke-width="0.6"/>
<circle cx="208.15" cy="527.30" r="1.70" fill="#fff" stroke="#30373a" stroke-width="0.6"/>
<circle cx="213.00" cy="527.30" r="1.70" fill="#fff" stroke="#30373a" stroke-width="0.6"/>
<circle cx="217.85" cy="527.30" r="1.70" fill="#fff" stroke="#30373a" stroke-width="0.6"/>
<circle cx="222.70" cy="527.30" r="1.70" fill="#fff" stroke="#30373a" stroke-width="0.6"/>
<line x1="223.60" y1="431.00" x2="223.60" y2="545.00" stroke="#7b7b7b" stroke-width="1.6"/>
<rect x="233.80" y="438.20" width="25.20" height="13.10" fill="#fff" stroke="#30373a" stroke-width="0.7" />
<rect x="235.50" y="439.70" width="8.00" height="10.00" fill="#fff" stroke="#30373a" stroke-width="0.5" />
<line x1="245.00" y1="446.20" x2="245.00" y2="449.70" stroke="#30373a" stroke-width="0.5"/>
<line x1="247.20" y1="446.20" x2="247.20" y2="449.70" stroke="#30373a" stroke-width="0.5"/>
<line x1="249.40" y1="446.20" x2="249.40" y2="449.70" stroke="#30373a" stroke-width="0.5"/>
<line x1="251.60" y1="446.20" x2="251.60" y2="449.70" stroke="#30373a" stroke-width="0.5"/>
<line x1="253.80" y1="446.20" x2="253.80" y2="449.70" stroke="#30373a" stroke-width="0.5"/>
<line x1="256.00" y1="446.20" x2="256.00" y2="449.70" stroke="#30373a" stroke-width="0.5"/>
<line x1="243.50" y1="446.20" x2="258.00" y2="446.20" stroke="#30373a" stroke-width="0.5"/>
<rect x="233.80" y="523.50" width="25.20" height="13.10" fill="#fff" stroke="#30373a" stroke-width="0.7" />
<rect x="235.50" y="525.00" width="8.00" height="10.00" fill="#fff" stroke="#30373a" stroke-width="0.5" />
<line x1="245.00" y1="531.50" x2="245.00" y2="535.00" stroke="#30373a" stroke-width="0.5"/>
<line x1="247.20" y1="531.50" x2="247.20" y2="535.00" stroke="#30373a" stroke-width="0.5"/>
<line x1="249.40" y1="531.50" x2="249.40" y2="535.00" stroke="#30373a" stroke-width="0.5"/>
<line x1="251.60" y1="531.50" x2="251.60" y2="535.00" stroke="#30373a" stroke-width="0.5"/>
<line x1="253.80" y1="531.50" x2="253.80" y2="535.00" stroke="#30373a" stroke-width="0.5"/>
<line x1="256.00" y1="531.50" x2="256.00" y2="535.00" stroke="#30373a" stroke-width="0.5"/>
<line x1="243.50" y1="531.50" x2="258.00" y2="531.50" stroke="#30373a" stroke-width="0.5"/>
<rect x="264.50" y="446.00" width="7.20" height="10.00" fill="#555" stroke="#333" stroke-width="0.5" />
<line x1="265.00" y1="448.50" x2="271.00" y2="448.50" stroke="#ddd" stroke-width="0.4"/>
<line x1="265.00" y1="451.00" x2="271.00" y2="451.00" stroke="#ddd" stroke-width="0.4"/>
<line x1="265.00" y1="453.50" x2="271.00" y2="453.50" stroke="#ddd" stroke-width="0.4"/>
<path d="M268.00,461.60 L279.50,461.60 L279.50,454.20 L287.50,454.20 L287.50,457.70 L290.00,457.70 L290.00,461.20 L293.00,461.20 L293.00,458.70 L296.00,458.70 L296.00,456.20 L299.00,456.20 L299.00,461.60 L313.00,461.60 L313.00,478.50 L308.00,478.50 L308.00,484.70 L299.00,484.70 L299.00,481.20 L292.00,481.20 L292.00,478.50 L287.50,478.50 L287.50,484.70 L279.50,484.70 L279.50,478.50 L268.00,478.50 Z" fill="#fff" stroke="#30373a" stroke-width="0.75" />
<path d="M268.00,498.90 L279.50,498.90 L279.50,491.50 L287.50,491.50 L287.50,495.00 L290.00,495.00 L290.00,498.50 L293.00,498.50 L293.00,496.00 L296.00,496.00 L296.00,493.50 L299.00,493.50 L299.00,498.90 L313.00,498.90 L313.00,515.80 L308.00,515.80 L308.00,522.00 L299.00,522.00 L299.00,518.50 L292.00,518.50 L292.00,515.80 L287.50,515.80 L287.50,522.00 L279.50,522.00 L279.50,515.80 L268.00,515.80 Z" fill="#fff" stroke="#30373a" stroke-width="0.75" />
<path d="M333.00,432.00 L402.40,432.00 L402.40,546.00 L333.00,546.00 Z" fill="#b8e29c" stroke="none" stroke-width="0.9" />
<path d="M333.00,432.00 L353.20,432.00 L353.20,457.00 L349.40,457.00 L349.40,505.00 L333.00,505.00 Z" fill="#96dfe9" stroke="#30373a" stroke-width="0.6" />
<path d="M381.00,432.00 L402.40,432.00 L402.40,475.00 L388.70,475.00 L388.70,463.50 L381.00,463.50 Z" fill="#96dfe9" stroke="#30373a" stroke-width="0.6" />
<path d="M381.00,546.00 L402.40,546.00 L402.40,502.00 L388.70,502.00 L388.70,513.50 L381.00,513.50 Z" fill="#96dfe9" stroke="#30373a" stroke-width="0.6" />
<path d="M402.40,432.00 L443.40,432.00 L443.40,475.20 L402.40,475.20 Z" fill="#eeb5a4" stroke="#30373a" stroke-width="0.6" />
<path d="M402.40,501.80 L443.40,501.80 L443.40,546.00 L402.40,546.00 Z" fill="#eeb5a4" stroke="#30373a" stroke-width="0.6" />
<path d="M443.40,432.00 L501.30,432.00 L501.30,546.00 L443.40,546.00 Z" fill="#b8e29c" stroke="none" stroke-width="0.9" />
<path d="M489.50,474.00 L501.30,474.00 L501.30,546.00 L473.50,546.00 L473.50,519.00 L479.50,507.00 L489.50,505.00 Z" fill="#96dfe9" stroke="#30373a" stroke-width="0.6" />
<path d="M333.00,432.00 L501.30,432.00 L501.30,546.00 L333.00,546.00 Z" fill="none" stroke="#30373a" stroke-width="0.7" />
<line x1="331.30" y1="430.50" x2="331.30" y2="546.50" stroke="#30373a" stroke-width="0.7"/>
<line x1="333.00" y1="432.00" x2="333.00" y2="546.00" stroke="#30373a" stroke-width="0.6"/>
<path d="M399.00,475.50 L443.40,475.50 L443.40,502.00 L399.00,502.00 Z" fill="#fff" stroke="#30373a" stroke-width="0.5" />
<path d="M411.00,486.8 C407.80,490.5 407.80,498.5 411.00,502" fill="none" stroke="#30373a" stroke-width="0.6" />
<path d="M413.50,486.8 C410.30,490.5 410.30,498.5 413.50,502" fill="none" stroke="#30373a" stroke-width="0.6" />
<path d="M416.00,486.8 C412.80,490.5 412.80,498.5 416.00,502" fill="none" stroke="#30373a" stroke-width="0.6" />
<path d="M418.50,486.8 C415.30,490.5 415.30,498.5 418.50,502" fill="none" stroke="#30373a" stroke-width="0.6" />
<path d="M421.00,486.8 C417.80,490.5 417.80,498.5 421.00,502" fill="none" stroke="#30373a" stroke-width="0.6" />
<path d="M423.50,486.8 C420.30,490.5 420.30,498.5 423.50,502" fill="none" stroke="#30373a" stroke-width="0.6" />
<path d="M426.00,486.8 C422.80,490.5 422.80,498.5 426.00,502" fill="none" stroke="#30373a" stroke-width="0.6" />
<path d="M428.50,486.8 C425.30,490.5 425.30,498.5 428.50,502" fill="none" stroke="#30373a" stroke-width="0.6" />
<path d="M431.00,486.8 C427.80,490.5 427.80,498.5 431.00,502" fill="none" stroke="#30373a" stroke-width="0.6" />
<path d="M410,486.8 L432.5,486.8" fill="none" stroke="#30373a" stroke-width="0.5" />
<path d="M432.5,486.8 C438,486.8 442.5,491 443,496.5" fill="none" stroke="#30373a" stroke-width="0.6" />
<line x1="433.00" y1="501.50" x2="433.00" y2="487.20" stroke="#30373a" stroke-width="0.5"/>
<line x1="433.00" y1="501.50" x2="436.56" y2="488.06" stroke="#30373a" stroke-width="0.5"/>
<line x1="433.00" y1="501.50" x2="439.68" y2="490.55" stroke="#30373a" stroke-width="0.5"/>
<line x1="433.00" y1="501.50" x2="442.01" y2="494.35" stroke="#30373a" stroke-width="0.5"/>
<line x1="433.00" y1="501.50" x2="443.24" y2="499.02" stroke="#30373a" stroke-width="0.5"/>
<rect x="433.00" y="499.30" width="10.00" height="3.00" fill="#fff" stroke="#222" stroke-width="0.8" />
<line x1="443.40" y1="475.50" x2="443.40" y2="502.00" stroke="#30373a" stroke-width="0.6"/>
<line x1="413.30" y1="432.00" x2="413.30" y2="454.40" stroke="#30373a" stroke-width="0.6"/>
<line x1="413.30" y1="546.00" x2="413.30" y2="523.60" stroke="#30373a" stroke-width="0.6"/>
<rect x="413.30" y="442.40" width="29.70" height="12.00" fill="none" stroke="#30373a" stroke-width="0.6" />
<rect x="435.50" y="444.70" width="6.00" height="7.40" fill="none" stroke="#30373a" stroke-width="0.6" />
<line x1="428.00" y1="443.40" x2="432.00" y2="453.40" stroke="#30373a" stroke-width="0.5"/>
<line x1="430.00" y1="443.40" x2="434.00" y2="453.40" stroke="#30373a" stroke-width="0.5"/>
<rect x="413.30" y="461.60" width="29.70" height="12.50" fill="none" stroke="#30373a" stroke-width="0.6" />
<rect x="435.50" y="463.90" width="6.00" height="7.90" fill="none" stroke="#30373a" stroke-width="0.6" />
<line x1="428.00" y1="462.60" x2="432.00" y2="473.10" stroke="#30373a" stroke-width="0.5"/>
<line x1="430.00" y1="462.60" x2="434.00" y2="473.10" stroke="#30373a" stroke-width="0.5"/>
<rect x="413.30" y="503.90" width="29.70" height="11.70" fill="none" stroke="#30373a" stroke-width="0.6" />
<rect x="435.50" y="506.20" width="6.00" height="7.10" fill="none" stroke="#30373a" stroke-width="0.6" />
<line x1="428.00" y1="504.90" x2="432.00" y2="514.60" stroke="#30373a" stroke-width="0.5"/>
<line x1="430.00" y1="504.90" x2="434.00" y2="514.60" stroke="#30373a" stroke-width="0.5"/>
<rect x="413.30" y="523.60" width="29.70" height="12.00" fill="none" stroke="#30373a" stroke-width="0.6" />
<rect x="435.50" y="525.90" width="6.00" height="7.40" fill="none" stroke="#30373a" stroke-width="0.6" />
<line x1="428.00" y1="524.60" x2="432.00" y2="534.60" stroke="#30373a" stroke-width="0.5"/>
<line x1="430.00" y1="524.60" x2="434.00" y2="534.60" stroke="#30373a" stroke-width="0.5"/>
<rect x="404.80" y="442.00" width="6.80" height="7.00" fill="#555" stroke="none" stroke-width="0.8" />
<rect x="404.80" y="528.00" width="6.80" height="7.00" fill="#555" stroke="none" stroke-width="0.8" />
<rect x="419.50" y="434.50" width="10.00" height="3.20" fill="none" stroke="#30373a" stroke-width="0.6" rx="1.5" />
<rect x="419.50" y="540.00" width="10.00" height="3.20" fill="none" stroke="#30373a" stroke-width="0.6" rx="1.5" />
<line x1="405.00" y1="455.00" x2="411.00" y2="465.00" stroke="#30373a" stroke-width="0.5"/>
<line x1="405.00" y1="522.00" x2="411.00" y2="512.00" stroke="#30373a" stroke-width="0.5"/>
<rect x="354.00" y="444.40" width="26.00" height="12.60" fill="none" stroke="#30373a" stroke-width="0.8" rx="1" />
<path d="M356.5,456 L357.5,447 L376.5,447 L377.5,456" fill="none" stroke="#30373a" stroke-width="0.6" />
<rect x="354.00" y="519.00" width="26.00" height="13.00" fill="none" stroke="#30373a" stroke-width="0.8" />
<line x1="349.40" y1="523.00" x2="381.00" y2="523.00" stroke="#30373a" stroke-width="0.5"/>
<rect x="362.00" y="513.80" width="9.00" height="9.00" fill="none" stroke="#30373a" stroke-width="0.7" rx="2" />
<rect x="363.50" y="515.50" width="6.00" height="6.00" fill="none" stroke="#30373a" stroke-width="0.5" rx="1" />
<rect x="349.40" y="474.00" width="29.60" height="28.50" fill="none" stroke="#30373a" stroke-width="0.9" />
<rect x="349.40" y="474.80" width="7.00" height="13.40" fill="none" stroke="#30373a" stroke-width="0.6" />
<rect x="349.40" y="488.80" width="7.00" height="13.40" fill="none" stroke="#30373a" stroke-width="0.6" />
<path d="M357,475 L362,488.3 L357,501.5 M362,475 L366,488.3 L362,501.5" fill="none" stroke="#30373a" stroke-width="0.5" />
<rect x="333.50" y="509.00" width="6.50" height="21.00" fill="#444" stroke="none" stroke-width="0.8" />
<line x1="334.50" y1="512.00" x2="339.00" y2="512.00" stroke="#999" stroke-width="0.4"/>
<line x1="334.50" y1="515.50" x2="339.00" y2="515.50" stroke="#999" stroke-width="0.4"/>
<line x1="334.50" y1="519.00" x2="339.00" y2="519.00" stroke="#999" stroke-width="0.4"/>
<line x1="334.50" y1="522.50" x2="339.00" y2="522.50" stroke="#999" stroke-width="0.4"/>
<line x1="334.50" y1="526.00" x2="339.00" y2="526.00" stroke="#999" stroke-width="0.4"/>
<rect x="343.00" y="433.30" width="6.00" height="3.50" fill="none" stroke="#30373a" stroke-width="0.5" rx="1.5" />
<rect x="335.00" y="448.00" width="5.00" height="7.50" fill="none" stroke="#30373a" stroke-width="0.7" />
<rect x="335.00" y="456.50" width="5.00" height="7.50" fill="none" stroke="#30373a" stroke-width="0.7" />
<rect x="343.30" y="444.60" width="4.80" height="6.60" fill="none" stroke="#30373a" stroke-width="0.8" rx="2" />
<rect x="381.30" y="447.80" width="8.40" height="14.80" fill="none" stroke="#30373a" stroke-width="0.8" />
<rect x="381.30" y="514.40" width="8.40" height="14.80" fill="none" stroke="#30373a" stroke-width="0.8" />
<text x="382.4" y="459" font-size="9" font-weight="bold" fill="#333">B</text>
<text x="382.4" y="525.6" font-size="9" font-weight="bold" fill="#333">B</text>
<text x="335.5" y="454.5" font-size="6.5" font-weight="bold" fill="#444">B</text>
<text x="335.5" y="463" font-size="6.5" font-weight="bold" fill="#444">B</text>
<rect x="392.30" y="443.50" width="4.60" height="6.20" fill="none" stroke="#30373a" stroke-width="0.9" rx="2" />
<rect x="392.30" y="527.50" width="4.60" height="6.20" fill="none" stroke="#30373a" stroke-width="0.9" rx="2" />
<rect x="388.70" y="463.70" width="14.20" height="11.90" fill="none" stroke="#30373a" stroke-width="0.6" />
<rect x="388.70" y="501.60" width="14.20" height="11.90" fill="none" stroke="#30373a" stroke-width="0.6" />
<line x1="400.50" y1="472.50" x2="392.13" y2="471.02" stroke="#30373a" stroke-width="0.55"/>
<line x1="400.50" y1="472.50" x2="392.73" y2="469.04" stroke="#30373a" stroke-width="0.55"/>
<line x1="400.50" y1="472.50" x2="393.80" y2="467.27" stroke="#30373a" stroke-width="0.55"/>
<line x1="400.50" y1="472.50" x2="395.27" y2="465.80" stroke="#30373a" stroke-width="0.55"/>
<line x1="400.50" y1="472.50" x2="397.04" y2="464.73" stroke="#30373a" stroke-width="0.55"/>
<line x1="400.50" y1="472.50" x2="399.02" y2="464.13" stroke="#30373a" stroke-width="0.55"/>
<line x1="400.50" y1="504.50" x2="399.02" y2="512.87" stroke="#30373a" stroke-width="0.55"/>
<line x1="400.50" y1="504.50" x2="397.04" y2="512.27" stroke="#30373a" stroke-width="0.55"/>
<line x1="400.50" y1="504.50" x2="395.27" y2="511.20" stroke="#30373a" stroke-width="0.55"/>
<line x1="400.50" y1="504.50" x2="393.80" y2="509.73" stroke="#30373a" stroke-width="0.55"/>
<line x1="400.50" y1="504.50" x2="392.73" y2="507.96" stroke="#30373a" stroke-width="0.55"/>
<line x1="400.50" y1="504.50" x2="392.13" y2="505.98" stroke="#30373a" stroke-width="0.55"/>
<line x1="336.00" y1="484.00" x2="337.48" y2="475.63" stroke="#30373a" stroke-width="0.55"/>
<line x1="336.00" y1="484.00" x2="339.46" y2="476.23" stroke="#30373a" stroke-width="0.55"/>
<line x1="336.00" y1="484.00" x2="341.23" y2="477.30" stroke="#30373a" stroke-width="0.55"/>
<line x1="336.00" y1="484.00" x2="342.70" y2="478.77" stroke="#30373a" stroke-width="0.55"/>
<line x1="336.00" y1="484.00" x2="343.77" y2="480.54" stroke="#30373a" stroke-width="0.55"/>
<line x1="336.00" y1="484.00" x2="344.37" y2="482.52" stroke="#30373a" stroke-width="0.55"/>
<line x1="336.00" y1="493.00" x2="344.37" y2="494.48" stroke="#30373a" stroke-width="0.55"/>
<line x1="336.00" y1="493.00" x2="343.77" y2="496.46" stroke="#30373a" stroke-width="0.55"/>
<line x1="336.00" y1="493.00" x2="342.70" y2="498.23" stroke="#30373a" stroke-width="0.55"/>
<line x1="336.00" y1="493.00" x2="341.23" y2="499.70" stroke="#30373a" stroke-width="0.55"/>
<line x1="336.00" y1="493.00" x2="339.46" y2="500.77" stroke="#30373a" stroke-width="0.55"/>
<line x1="336.00" y1="493.00" x2="337.48" y2="501.37" stroke="#30373a" stroke-width="0.55"/>
<path d="M354.5,433 L379.5,433 L379.5,437 L354.5,437 Z" fill="none" stroke="#30373a" stroke-width="0.5" />
<rect x="356.00" y="433.60" width="3.80" height="2.80" fill="none" stroke="#30373a" stroke-width="0.45" rx="1.3" />
<rect x="360.70" y="433.60" width="3.80" height="2.80" fill="none" stroke="#30373a" stroke-width="0.45" rx="1.3" />
<rect x="365.40" y="433.60" width="3.80" height="2.80" fill="none" stroke="#30373a" stroke-width="0.45" rx="1.3" />
<rect x="370.10" y="433.60" width="3.80" height="2.80" fill="none" stroke="#30373a" stroke-width="0.45" rx="1.3" />
<rect x="374.80" y="433.60" width="3.80" height="2.80" fill="none" stroke="#30373a" stroke-width="0.45" rx="1.3" />
<path d="M354.5,540 L379.5,540 L379.5,544 L354.5,544 Z" fill="none" stroke="#30373a" stroke-width="0.5" />
<rect x="356.00" y="540.60" width="3.80" height="2.80" fill="none" stroke="#30373a" stroke-width="0.45" rx="1.3" />
<rect x="360.70" y="540.60" width="3.80" height="2.80" fill="none" stroke="#30373a" stroke-width="0.45" rx="1.3" />
<rect x="365.40" y="540.60" width="3.80" height="2.80" fill="none" stroke="#30373a" stroke-width="0.45" rx="1.3" />
<rect x="370.10" y="540.60" width="3.80" height="2.80" fill="none" stroke="#30373a" stroke-width="0.45" rx="1.3" />
<rect x="374.80" y="540.60" width="3.80" height="2.80" fill="none" stroke="#30373a" stroke-width="0.45" rx="1.3" />
<line x1="447.40" y1="432.00" x2="447.40" y2="477.00" stroke="#2f3a5a" stroke-width="0.8"/>
<line x1="447.40" y1="501.00" x2="447.40" y2="546.00" stroke="#30373a" stroke-width="0.6"/>
<line x1="448.00" y1="445.50" x2="476.00" y2="445.50" stroke="#30373a" stroke-width="0.7"/>
<rect x="448.50" y="445.50" width="27.30" height="10.30" fill="none" stroke="#30373a" stroke-width="0.8" />
<rect x="452.00" y="448.00" width="20.00" height="6.00" fill="none" stroke="#30373a" stroke-width="0.5" />
<rect x="456.40" y="455.80" width="12.60" height="9.10" fill="none" stroke="#30373a" stroke-width="0.7" />
<rect x="458.50" y="457.50" width="8.50" height="5.50" fill="none" stroke="#30373a" stroke-width="0.5" />
<rect x="448.50" y="517.00" width="25.00" height="12.80" fill="none" stroke="#30373a" stroke-width="0.8" />
<path d="M451,517 L452,526.5 L470,526.5 L471,517" fill="none" stroke="#30373a" stroke-width="0.5" />
<rect x="458.70" y="474.00" width="29.60" height="31.90" fill="none" stroke="#30373a" stroke-width="0.9" />
<rect x="480.80" y="475.00" width="7.50" height="14.50" fill="none" stroke="#30373a" stroke-width="0.6" />
<rect x="480.80" y="490.30" width="7.50" height="14.50" fill="none" stroke="#30373a" stroke-width="0.6" />
<path d="M475.5,475 L480,490 L475.5,505 M472,475 L476.5,490 L472,505" fill="none" stroke="#30373a" stroke-width="0.5" />
<path d="M474.5,432 L474.5,462 L480,472 L480,474" fill="none" stroke="#30373a" stroke-width="0.6" />
<rect x="462.00" y="433.50" width="9.50" height="3.20" fill="none" stroke="#30373a" stroke-width="0.6" rx="1.5" />
<rect x="476.00" y="433.50" width="9.50" height="3.20" fill="none" stroke="#30373a" stroke-width="0.6" rx="1.5" />
<rect x="462.00" y="540.50" width="9.50" height="3.20" fill="none" stroke="#30373a" stroke-width="0.6" rx="1.5" />
<rect x="476.00" y="540.50" width="9.50" height="3.20" fill="none" stroke="#30373a" stroke-width="0.6" rx="1.5" />
<rect x="478.00" y="449.50" width="14.00" height="6.00" fill="#444" stroke="none" stroke-width="0.8" />
<path d="M490,450 L496,452 L499,457 L494,459 Z" fill="#444"/>
<rect x="494.00" y="457.00" width="6.00" height="16.00" fill="#444" stroke="none" stroke-width="0.8" />
<line x1="494.50" y1="460.00" x2="499.50" y2="460.00" stroke="#999" stroke-width="0.4"/>
<line x1="494.50" y1="463.00" x2="499.50" y2="463.00" stroke="#999" stroke-width="0.4"/>
<line x1="494.50" y1="466.00" x2="499.50" y2="466.00" stroke="#999" stroke-width="0.4"/>
<line x1="494.50" y1="469.00" x2="499.50" y2="469.00" stroke="#999" stroke-width="0.4"/>
<line x1="481.00" y1="450.00" x2="481.00" y2="455.00" stroke="#999" stroke-width="0.4"/>
<line x1="484.00" y1="450.00" x2="484.00" y2="455.00" stroke="#999" stroke-width="0.4"/>
<line x1="487.00" y1="450.00" x2="487.00" y2="455.00" stroke="#999" stroke-width="0.4"/>
<line x1="490.00" y1="450.00" x2="490.00" y2="455.00" stroke="#999" stroke-width="0.4"/>
<line x1="500.00" y1="484.00" x2="498.44" y2="492.86" stroke="#30373a" stroke-width="0.5"/>
<line x1="500.00" y1="484.00" x2="495.50" y2="491.79" stroke="#30373a" stroke-width="0.5"/>
<line x1="500.00" y1="484.00" x2="493.11" y2="489.79" stroke="#30373a" stroke-width="0.5"/>
<line x1="500.00" y1="484.00" x2="491.54" y2="487.08" stroke="#30373a" stroke-width="0.5"/>
<line x1="500.00" y1="484.00" x2="491.00" y2="484.00" stroke="#30373a" stroke-width="0.5"/>
<line x1="500.00" y1="484.00" x2="491.54" y2="480.92" stroke="#30373a" stroke-width="0.5"/>
<line x1="500.00" y1="484.00" x2="493.11" y2="478.21" stroke="#30373a" stroke-width="0.5"/>
<line x1="500.00" y1="484.00" x2="495.50" y2="476.21" stroke="#30373a" stroke-width="0.5"/>
<rect x="483.00" y="520.00" width="8.00" height="5.50" fill="none" stroke="#30373a" stroke-width="0.8" />
<rect x="496.00" y="512.00" width="4.00" height="5.00" fill="none" stroke="#30373a" stroke-width="0.7" rx="1.5" />
<rect x="496.00" y="518.50" width="4.00" height="5.00" fill="none" stroke="#30373a" stroke-width="0.7" rx="1.5" />
<line x1="476.00" y1="518.00" x2="500.00" y2="518.00" stroke="#30373a" stroke-width="0.5"/>
<path d="M477,528 L499,528 L499,536 M477,518 L477,528" fill="none" stroke="#30373a" stroke-width="0.5" />
<line x1="502.40" y1="433.00" x2="502.40" y2="544.50" stroke="#30373a" stroke-width="0.7"/>
<line x1="504.20" y1="433.50" x2="504.20" y2="544.00" stroke="#30373a" stroke-width="0.6"/>
<line x1="601.50" y1="441.50" x2="601.50" y2="535.50" stroke="#30373a" stroke-width="0.8"/>
<line x1="603.80" y1="442.00" x2="603.80" y2="535.00" stroke="#30373a" stroke-width="0.8"/>
<circle cx="524.30" cy="441.80" r="2.20" fill="#fff" stroke="#30373a" stroke-width="0.7"/>
<circle cx="541.70" cy="444.60" r="2.20" fill="#fff" stroke="#30373a" stroke-width="0.7"/>
<circle cx="566.80" cy="450.60" r="2.20" fill="#fff" stroke="#30373a" stroke-width="0.7"/>
<circle cx="584.10" cy="455.70" r="2.20" fill="#fff" stroke="#30373a" stroke-width="0.7"/>
<circle cx="524.30" cy="535.20" r="2.20" fill="#fff" stroke="#30373a" stroke-width="0.7"/>
<circle cx="541.70" cy="532.40" r="2.20" fill="#fff" stroke="#30373a" stroke-width="0.7"/>
<circle cx="566.80" cy="526.40" r="2.20" fill="#fff" stroke="#30373a" stroke-width="0.7"/>
<circle cx="584.10" cy="521.30" r="2.20" fill="#fff" stroke="#30373a" stroke-width="0.7"/>
<path d="M505.60,451.60 L533.40,459.20 L533.40,471.70 L505.60,464.80 Z" fill="#fff" stroke="#30373a" stroke-width="0.7" />
<path d="M545.90,458.50 L573.70,466.90 L572.30,478.70 L545.90,470.30 Z" fill="#fff" stroke="#30373a" stroke-width="0.7" />
<path d="M505.60,525.40 L533.40,517.80 L533.40,505.30 L505.60,512.20 Z" fill="#fff" stroke="#30373a" stroke-width="0.7" />
<path d="M545.90,518.50 L573.70,510.10 L572.30,498.30 L545.90,506.70 Z" fill="#fff" stroke="#30373a" stroke-width="0.7" />
<line x1="510.00" y1="453.00" x2="514.00" y2="465.50" stroke="#30373a" stroke-width="0.5"/>
<line x1="516.00" y1="454.50" x2="520.00" y2="467.00" stroke="#30373a" stroke-width="0.5"/>
<line x1="550.00" y1="460.00" x2="554.00" y2="471.50" stroke="#30373a" stroke-width="0.5"/>
<line x1="556.00" y1="461.50" x2="560.00" y2="473.00" stroke="#30373a" stroke-width="0.5"/>
<line x1="510.00" y1="524.00" x2="514.00" y2="511.50" stroke="#30373a" stroke-width="0.5"/>
<line x1="516.00" y1="522.50" x2="520.00" y2="510.00" stroke="#30373a" stroke-width="0.5"/>
<line x1="550.00" y1="517.00" x2="554.00" y2="505.50" stroke="#30373a" stroke-width="0.5"/>
<line x1="556.00" y1="515.50" x2="560.00" y2="504.00" stroke="#30373a" stroke-width="0.5"/>
<line x1="505.60" y1="455.00" x2="533.40" y2="462.50" stroke="#30373a" stroke-width="0.5"/>
<line x1="545.90" y1="461.50" x2="573.70" y2="470.00" stroke="#30373a" stroke-width="0.5"/>
<line x1="505.60" y1="522.00" x2="533.40" y2="514.50" stroke="#30373a" stroke-width="0.5"/>
<line x1="545.90" y1="515.50" x2="573.70" y2="507.00" stroke="#30373a" stroke-width="0.5"/>
<rect x="535.50" y="461.30" width="7.60" height="7.00" fill="#4a4a4a" stroke="none" stroke-width="0.8" />
<rect x="573.00" y="471.00" width="7.60" height="7.00" fill="#4a4a4a" stroke="none" stroke-width="0.8" />
<rect x="535.50" y="508.50" width="7.60" height="7.00" fill="#4a4a4a" stroke="none" stroke-width="0.8" />
<rect x="573.00" y="499.00" width="7.60" height="7.00" fill="#4a4a4a" stroke="none" stroke-width="0.8" />
<line x1="553.50" y1="441.80" x2="540.30" y2="481.50" stroke="#30373a" stroke-width="0.6"/>
<line x1="581.40" y1="448.00" x2="577.20" y2="470.00" stroke="#30373a" stroke-width="0.6"/>
<line x1="553.50" y1="535.20" x2="540.30" y2="495.50" stroke="#30373a" stroke-width="0.6"/>
<line x1="581.40" y1="529.00" x2="577.20" y2="507.00" stroke="#30373a" stroke-width="0.6"/>
<rect x="591.8" y="450" width="8.5" height="11.5" rx="2" fill="#fff" stroke="#30373a" stroke-width="0.7" transform="rotate(12 596 456)"/>
<path d="M504,481 L540,481 L546,488.5 L540,496 L504,496" fill="none" stroke="#30373a" stroke-width="0.6" />
<line x1="546.00" y1="488.50" x2="600.00" y2="488.50" stroke="#30373a" stroke-width="0.6"/>
<path d="M582,480 L586,488.5 L582,497" fill="none" stroke="#30373a" stroke-width="0.5" />
<rect x="592.00" y="486.50" width="6.00" height="4.00" fill="#fff" stroke="#30373a" stroke-width="0.6" rx="1.5" />
<line x1="540.00" y1="472.00" x2="600.00" y2="490.00" stroke="#30373a" stroke-width="0.5"/>
<line x1="540.00" y1="505.00" x2="600.00" y2="487.00" stroke="#30373a" stroke-width="0.5"/>
<line x1="505.00" y1="489.00" x2="505.00" y2="500.00" stroke="#30373a" stroke-width="0.5"/>
<line x1="507.40" y1="489.00" x2="507.40" y2="500.00" stroke="#30373a" stroke-width="0.5"/>
<line x1="509.80" y1="489.00" x2="509.80" y2="500.00" stroke="#30373a" stroke-width="0.5"/>
<line x1="512.20" y1="489.00" x2="512.20" y2="500.00" stroke="#30373a" stroke-width="0.5"/>
<line x1="514.60" y1="489.00" x2="514.60" y2="500.00" stroke="#30373a" stroke-width="0.5"/>
<line x1="517.00" y1="489.00" x2="517.00" y2="500.00" stroke="#30373a" stroke-width="0.5"/>
<line x1="519.40" y1="489.00" x2="519.40" y2="500.00" stroke="#30373a" stroke-width="0.5"/>
<line x1="521.80" y1="489.00" x2="521.80" y2="500.00" stroke="#30373a" stroke-width="0.5"/>
<line x1="524.20" y1="489.00" x2="524.20" y2="500.00" stroke="#30373a" stroke-width="0.5"/>
<rect x="505.00" y="477.00" width="6.00" height="6.00" fill="none" stroke="#30373a" stroke-width="0.6" />
<rect x="521.00" y="482.00" width="6.00" height="3.50" fill="none" stroke="#30373a" stroke-width="0.6" rx="1.5" />
<rect x="508.00" y="512.00" width="3.50" height="5.00" fill="none" stroke="#30373a" stroke-width="0.7" rx="1.5" />
<circle cx="584.00" cy="500.00" r="2.00" fill="none" stroke="#30373a" stroke-width="0.6"/>
<g transform="translate(0,488.3) scale(1,1) translate(0,-488.3)"><path d="M610.5,475 L622,479.5 L617.5,487 L606.5,484.5 Z" fill="#5a5a5a" stroke="#333" stroke-width="0.8"/><path d="M609,477.5 L619,481 M608,480.5 L618,484 M612,476 L610,486 M615.5,477.5 L613.5,486.5 M619,479 L617,487" stroke="#bbb" stroke-width="0.4" fill="none"/><path d="M614.2,468.5 L622,479.5 M610.5,475 L609,474" stroke="#333" stroke-width="0.9" fill="none"/><circle cx="614.2" cy="468.5" r="1.3" fill="#333"/></g>
<g transform="translate(0,488.3) scale(1,-1) translate(0,-488.3)"><path d="M610.5,475 L622,479.5 L617.5,487 L606.5,484.5 Z" fill="#5a5a5a" stroke="#333" stroke-width="0.8"/><path d="M609,477.5 L619,481 M608,480.5 L618,484 M612,476 L610,486 M615.5,477.5 L613.5,486.5 M619,479 L617,487" stroke="#bbb" stroke-width="0.4" fill="none"/><path d="M614.2,468.5 L622,479.5 M610.5,475 L609,474" stroke="#333" stroke-width="0.9" fill="none"/><circle cx="614.2" cy="468.5" r="1.3" fill="#333"/></g>
<path d="M607,486.5 L619,488.3 L607,490.1" fill="none" stroke="#333" stroke-width="0.9" />
<path d="M604.00,443.20 C606.72,444.10 615.97,447.13 620.30,448.60 C624.63,450.07 625.43,450.48 630.00,452.00 C634.57,453.52 641.80,455.28 647.70,457.70 C653.60,460.12 660.40,463.57 665.40,466.50 C670.40,469.43 674.80,472.98 677.70,475.30 C680.60,477.62 681.52,478.55 682.80,480.40 C684.08,482.25 684.97,484.83 685.40,486.40 C685.83,487.97 685.62,488.38 685.40,489.80 C685.18,491.22 685.22,493.00 684.10,494.90 C682.98,496.80 681.82,498.75 678.70,501.20 C675.58,503.65 670.57,506.95 665.40,509.60 C660.23,512.25 653.60,514.52 647.70,517.10 C641.80,519.68 635.82,522.87 630.00,525.10 C624.18,527.33 617.45,529.08 612.80,530.50 C608.15,531.92 603.88,533.08 602.10,533.60" fill="none" stroke="#30373a" stroke-width="1.0" />
</svg>
</body></html>
